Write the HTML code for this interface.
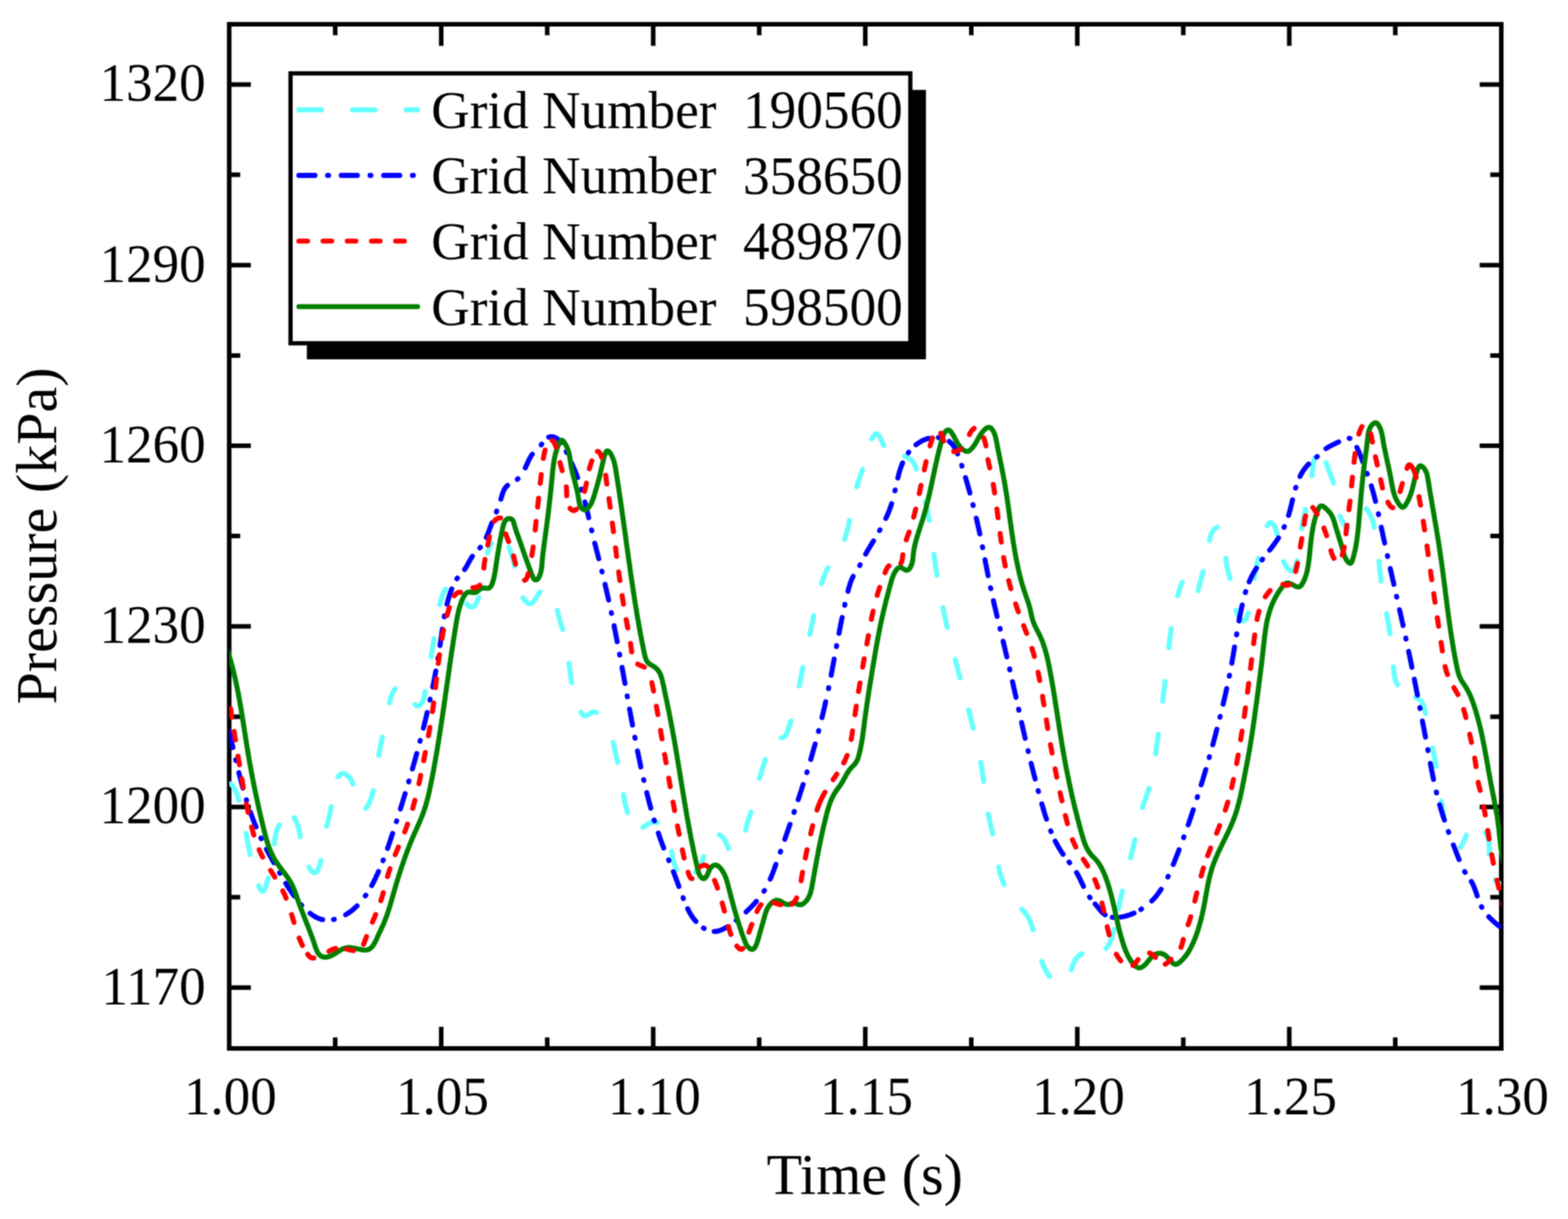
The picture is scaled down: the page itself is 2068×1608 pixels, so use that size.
<!DOCTYPE html>
<html lang="en"><head><meta charset="utf-8"><title>Pressure vs Time</title>
<style>
html,body{margin:0;padding:0;background:#fff;}
body{width:2068px;height:1608px;overflow:hidden;}
svg{display:block;}
</style></head><body>
<svg width="2068" height="1608" viewBox="0 0 2068 1608">
<defs><clipPath id="plot"><rect x="302.3" y="32.0" width="1677.7" height="1351.0"/></clipPath></defs>
<defs><filter id="soft" x="0" y="0" width="2068" height="1608" filterUnits="userSpaceOnUse" color-interpolation-filters="sRGB"><feConvolveMatrix order="3" kernelMatrix="1 2 1 2 4 2 1 2 1" edgeMode="duplicate" preserveAlpha="true"/></filter></defs>
<g filter="url(#soft)">
<rect x="-20" y="-20" width="2108" height="1648" fill="#ffffff"/>
<g stroke="#000" stroke-width="6.0" fill="none" stroke-linecap="butt">
<rect x="302.3" y="32.0" width="1677.7" height="1351.0"/>
</g>
<g stroke="#000" stroke-width="6.0" fill="none" stroke-linecap="butt">
<path d="M302.3 111.5h28.5 M1980.0 111.5h-28.5"/>
<path d="M302.3 349.8h28.5 M1980.0 349.8h-28.5"/>
<path d="M302.3 588.0h28.5 M1980.0 588.0h-28.5"/>
<path d="M302.3 826.3h28.5 M1980.0 826.3h-28.5"/>
<path d="M302.3 1064.5h28.5 M1980.0 1064.5h-28.5"/>
<path d="M302.3 1302.8h28.5 M1980.0 1302.8h-28.5"/>
<path d="M302.3 230.6h14.5 M1980.0 230.6h-14.5"/>
<path d="M302.3 468.9h14.5 M1980.0 468.9h-14.5"/>
<path d="M302.3 707.1h14.5 M1980.0 707.1h-14.5"/>
<path d="M302.3 945.4h14.5 M1980.0 945.4h-14.5"/>
<path d="M302.3 1183.6h14.5 M1980.0 1183.6h-14.5"/>
<path d="M581.9 1383.0v-28.5 M581.9 32.0v28.5"/>
<path d="M861.5 1383.0v-28.5 M861.5 32.0v28.5"/>
<path d="M1141.2 1383.0v-28.5 M1141.2 32.0v28.5"/>
<path d="M1420.8 1383.0v-28.5 M1420.8 32.0v28.5"/>
<path d="M1700.4 1383.0v-28.5 M1700.4 32.0v28.5"/>
<path d="M442.1 1383.0v-14.5 M442.1 32.0v14.5"/>
<path d="M721.7 1383.0v-14.5 M721.7 32.0v14.5"/>
<path d="M1001.3 1383.0v-14.5 M1001.3 32.0v14.5"/>
<path d="M1281.0 1383.0v-14.5 M1281.0 32.0v14.5"/>
<path d="M1560.6 1383.0v-14.5 M1560.6 32.0v14.5"/>
<path d="M1840.2 1383.0v-14.5 M1840.2 32.0v14.5"/>
</g>
<rect x="404.7" y="118.6" width="816.5" height="355.4" fill="#000"/>
<rect x="383.2" y="96.8" width="817.4" height="356" fill="#fff" stroke="#000" stroke-width="5.6"/>
<g clip-path="url(#plot)" fill="none" stroke-width="6.6" stroke-linecap="round" stroke-linejoin="round">
<path stroke="#66ffff" d="M304.2 1033.9L305.5 1035.3L306.7 1036.7L307.9 1038.3L308.9 1039.9L309.9 1041.5L310.7 1043.3L311.5 1045.0L312.2 1046.8L312.8 1048.6L313.4 1050.4L313.9 1052.3L314.4 1054.1L314.9 1056.0M324.3 1099.1L324.7 1101.0L325.1 1102.8L325.4 1104.7L325.8 1106.6L326.2 1108.5L326.5 1110.4L326.9 1112.3L327.3 1114.2L327.7 1116.1L328.0 1118.0L328.4 1119.9L328.8 1121.8L329.1 1123.6L329.5 1125.5L329.9 1127.4M341.0 1168.5L341.8 1170.2L342.6 1172.0L343.6 1173.7L344.8 1175.2L346.5 1175.8L348.0 1174.6L349.0 1173.0L349.8 1171.2L350.5 1169.4L351.1 1167.6L351.7 1165.8L352.2 1163.9L352.7 1162.0L353.2 1160.2L353.6 1158.3M361.7 1113.5L362.0 1111.6L362.2 1109.7L362.4 1107.9L362.7 1106.0L363.0 1104.1L363.4 1102.3L363.7 1100.4L364.2 1098.6L364.7 1096.8L365.3 1095.0L366.0 1093.2L366.7 1091.5L367.6 1089.8L368.5 1088.2M387.6 1078.4L388.6 1080.1L389.6 1081.7L390.4 1083.4L391.2 1085.2L392.0 1087.0L392.6 1088.8L393.2 1090.6L393.7 1092.4L394.2 1094.3L394.6 1096.2L395.0 1098.1L395.4 1100.0L395.7 1101.8L396.0 1103.7M407.6 1143.9L408.5 1145.6L409.6 1147.2L410.7 1148.7L412.0 1150.1L413.5 1151.2L415.4 1151.4L417.0 1150.5L418.2 1149.1L419.2 1147.4L420.0 1145.7L420.7 1143.9L421.3 1142.1L421.9 1140.3L422.4 1138.5L422.9 1136.7L423.3 1134.8M430.9 1089.9L431.3 1088.0L431.8 1086.2L432.2 1084.4L432.7 1082.5L433.1 1080.7L433.6 1078.9L434.1 1077.0L434.5 1075.2L434.9 1073.4L435.4 1071.5L435.7 1069.7L436.1 1067.8L436.5 1066.0L436.8 1064.1M445.8 1024.7L447.1 1023.2L448.4 1021.9L450.0 1020.9L451.8 1020.4L453.7 1020.5L455.5 1021.1L457.1 1022.1L458.6 1023.3L459.9 1024.6L461.2 1026.1L462.3 1027.6L463.2 1029.2L464.1 1030.9L464.9 1032.6L465.6 1034.4M482.2 1066.3L483.7 1065.0L484.8 1063.4L485.8 1061.6L486.6 1059.8L487.4 1058.0L488.2 1056.1L488.9 1054.3L489.5 1052.4L490.1 1050.5L490.7 1048.6L491.2 1046.7L491.7 1044.7L492.1 1042.8M499.6 996.3L500.0 994.4L500.3 992.6L500.6 990.7L501.0 988.9L501.3 987.0L501.7 985.2L502.0 983.4L502.4 981.5L502.7 979.7L503.1 977.8L503.5 976.0L503.8 974.2L504.2 972.3M513.7 927.2L514.1 925.4L514.5 923.6L515.0 921.8L515.5 920.0L516.1 918.2L516.7 916.5L517.4 914.8L518.3 913.1L519.2 911.5L520.2 909.9L521.3 908.4M547.1 929.4L548.7 930.6L550.5 931.3L552.4 931.1L554.0 930.1L555.3 928.6L556.4 926.9L557.3 925.2L558.0 923.4L558.7 921.6L559.2 919.7L559.7 917.8L560.0 915.8L560.3 913.9L560.5 912.0M568.4 866.6L568.8 864.7L569.1 862.9L569.4 861.0L569.8 859.2L570.1 857.3L570.4 855.5L570.7 853.6L571.0 851.8L571.3 849.9L571.6 848.1L571.9 846.2L572.1 844.4L572.4 842.5M579.9 797.5L580.4 795.6L580.9 793.6L581.4 791.7L581.9 789.8L582.6 787.9L583.3 786.1L584.0 784.2L584.8 782.4L585.8 780.6L586.7 778.9L587.8 777.2M615.2 796.5L616.5 797.9L618.0 799.2L619.6 800.2L621.4 800.8L623.3 800.7L624.9 799.7L626.3 798.4L627.4 796.8L628.4 795.2L629.2 793.5L630.0 791.7L630.7 789.9L631.4 788.1M642.8 729.8L643.4 728.0L643.9 726.3L644.5 724.6L645.2 723.0L645.9 721.3L646.6 719.7L647.4 718.0L648.2 716.4M671.0 721.8L671.7 723.6L672.3 725.3L673.0 727.1L673.6 728.9L674.3 730.7L674.9 732.4L675.5 734.2L676.0 736.0L676.6 737.8L677.1 739.6L677.6 741.5L678.0 743.3L678.5 745.1L678.8 747.0M689.8 788.7L690.9 790.3L692.2 791.9L693.5 793.3L694.9 794.6L696.5 795.7L698.4 796.4L700.3 796.2L702.0 795.2L703.4 793.8L704.6 792.2L705.7 790.6L706.8 789.0L707.8 787.3L708.8 785.6L709.9 783.9L711.0 782.3L712.1 780.7M735.0 805.0L735.4 806.8L735.8 808.7L736.2 810.5L736.7 812.4L737.1 814.2L737.6 816.0L738.2 817.8L738.7 819.6L739.2 821.4L739.8 823.2L740.4 825.0L740.9 826.8L741.5 828.6L742.0 830.4M750.4 874.7L750.6 876.7L750.9 878.7L751.1 880.7L751.4 882.6L751.6 884.6L751.9 886.6L752.1 888.6L752.4 890.5L752.7 892.5L753.0 894.5L753.3 896.4L753.6 898.4L753.9 900.4M766.4 939.4L767.4 941.1L768.6 942.6L770.2 943.9L772.1 944.3L774.0 943.7L775.8 942.7L777.4 941.7L779.1 940.6L780.9 939.8L782.9 939.2L784.8 939.2L786.8 939.7M808.7 979.1L809.1 981.0L809.5 982.9L809.9 984.8L810.3 986.7L810.8 988.6L811.2 990.5L811.6 992.5L812.0 994.4L812.5 996.3L812.9 998.2L813.3 1000.1L813.7 1002.0L814.1 1003.9L814.5 1005.8M822.4 1048.2L822.6 1050.1L822.9 1051.9L823.2 1053.8L823.5 1055.6L823.9 1057.5L824.3 1059.3L824.7 1061.2L825.1 1063.0L825.6 1064.8L826.1 1066.6L826.6 1068.4L827.2 1070.2L827.8 1072.0M847.9 1091.3L849.5 1090.3L851.1 1089.3L852.7 1088.2L854.3 1087.2L855.9 1086.2L857.6 1085.4L859.4 1084.8L861.3 1084.4L863.2 1084.4L865.1 1084.7L866.9 1085.2M885.8 1123.6L886.1 1125.4L886.5 1127.3L886.8 1129.1L887.2 1131.0L887.5 1132.8L888.0 1134.6L888.5 1136.4L889.0 1138.2L889.6 1140.0L890.2 1141.8L890.9 1143.5L891.7 1145.2L892.5 1146.9M917.2 1150.6L918.5 1149.0L919.7 1147.5L920.9 1145.9L922.0 1144.2L923.0 1142.5L924.0 1140.7L924.8 1139.0L925.6 1137.1L926.4 1135.3L927.0 1133.4L927.6 1131.5L928.1 1129.5M948.6 1101.2L950.2 1102.1L951.8 1103.1L953.2 1104.4L954.4 1105.8L955.4 1107.4L956.3 1109.0L957.1 1110.7L957.8 1112.4L958.5 1114.2L959.2 1115.9L960.1 1117.6L960.9 1119.2M983.4 1095.1L983.8 1093.2L984.2 1091.3L984.6 1089.5L985.1 1087.6L985.6 1085.8L986.2 1083.9L986.7 1082.1L987.3 1080.3L987.9 1078.5L988.6 1076.7L989.2 1074.8L989.8 1073.0L990.4 1071.2M1001.8 1026.6L1002.3 1024.6L1002.9 1022.7L1003.5 1020.8L1004.0 1018.9L1004.6 1017.0L1005.2 1015.1L1005.8 1013.2L1006.4 1011.3L1007.0 1009.4L1007.6 1007.5L1008.2 1005.6L1008.8 1003.7L1009.4 1001.8M1030.3 973.2L1032.2 972.9L1034.0 972.1L1035.5 970.8L1036.6 969.2L1037.5 967.5L1038.2 965.6L1038.9 963.8L1039.5 962.0L1040.2 960.1L1040.8 958.3L1041.4 956.4L1042.0 954.5L1042.6 952.7L1043.2 950.8M1054.1 905.0L1054.4 903.1L1054.8 901.2L1055.2 899.4L1055.5 897.5L1055.9 895.6L1056.2 893.7L1056.6 891.8L1057.0 889.9L1057.3 888.1L1057.7 886.2L1058.0 884.3L1058.4 882.4L1058.8 880.5M1067.9 836.9L1068.3 835.0L1068.8 833.1L1069.2 831.2L1069.6 829.2L1070.0 827.3L1070.4 825.4L1070.8 823.5L1071.2 821.6L1071.7 819.7L1072.1 817.8L1072.5 815.9L1072.9 814.0L1073.3 812.0M1083.4 769.7L1084.0 767.9L1084.6 766.1L1085.2 764.4L1085.9 762.6L1086.5 760.9L1087.2 759.1L1087.9 757.4L1088.7 755.7L1089.4 754.0L1090.2 752.3L1091.1 750.6L1091.9 749.0M1113.8 711.3L1114.5 709.4L1115.2 707.6L1115.8 705.7L1116.4 703.8L1116.9 701.9L1117.4 699.9L1117.9 698.0L1118.4 696.0L1118.8 694.1L1119.2 692.2L1119.6 690.2L1119.9 688.2L1120.3 686.3M1129.8 642.2L1130.4 640.4L1131.0 638.7L1131.6 636.9L1132.2 635.1L1132.8 633.3L1133.5 631.6L1134.1 629.8L1134.7 628.0L1135.3 626.2L1135.9 624.5L1136.4 622.7L1137.0 620.9L1137.5 619.1M1149.6 579.0L1150.6 577.3L1151.6 575.8L1152.8 574.3L1154.2 573.0L1155.9 572.2L1157.6 572.7L1158.9 574.1L1159.9 575.7L1160.8 577.4L1161.6 579.1L1162.3 580.9L1163.1 582.6L1163.8 584.3L1164.7 586.0L1165.5 587.7M1192.9 601.9L1194.8 602.6L1196.6 603.4L1198.4 604.3L1200.1 605.4L1201.6 606.6L1203.0 608.1L1204.2 609.7L1205.3 611.3L1206.3 613.1L1207.1 614.9L1207.9 616.7L1208.6 618.6M1220.2 661.6L1220.7 663.5L1221.1 665.4L1221.5 667.3L1222.0 669.2L1222.4 671.1L1222.8 673.0L1223.2 675.0L1223.6 676.9L1224.0 678.8L1224.4 680.7L1224.8 682.6L1225.1 684.5L1225.5 686.5M1231.7 731.1L1232.0 733.1L1232.2 735.1L1232.5 737.0L1232.8 739.0L1233.1 741.0L1233.4 743.0L1233.6 744.9L1233.9 746.9L1234.2 748.9L1234.5 750.9L1234.8 752.8L1235.2 754.8L1235.5 756.8L1235.8 758.7M1243.7 801.6L1244.0 803.5L1244.4 805.3L1244.8 807.2L1245.2 809.0L1245.6 810.8L1246.0 812.7L1246.4 814.5L1246.8 816.4L1247.2 818.2L1247.6 820.1L1248.0 821.9L1248.4 823.7L1248.8 825.6L1249.3 827.4M1259.8 870.2L1260.3 872.1L1260.8 873.9L1261.3 875.8L1261.8 877.7L1262.3 879.5L1262.7 881.4L1263.2 883.2L1263.7 885.1L1264.2 886.9L1264.7 888.8L1265.2 890.6L1265.7 892.5L1266.2 894.3M1277.4 936.5L1277.9 938.3L1278.4 940.2L1278.9 942.0L1279.4 943.9L1279.8 945.7L1280.3 947.6L1280.8 949.4L1281.3 951.3L1281.7 953.2L1282.2 955.0L1282.7 956.9L1283.1 958.7L1283.6 960.6M1293.4 1005.6L1293.7 1007.6L1294.1 1009.5L1294.4 1011.4L1294.7 1013.3L1295.1 1015.3L1295.4 1017.2L1295.7 1019.1L1296.0 1021.0L1296.3 1023.0L1296.6 1024.9L1296.8 1026.9L1297.1 1028.8L1297.4 1030.7M1303.2 1073.9L1303.6 1075.8L1304.0 1077.7L1304.4 1079.6L1304.9 1081.4L1305.3 1083.3L1305.7 1085.2L1306.2 1087.0L1306.6 1088.9L1307.1 1090.8L1307.5 1092.6L1308.0 1094.5L1308.4 1096.4L1308.8 1098.3L1309.2 1100.1M1317.0 1143.6L1317.4 1145.4L1317.8 1147.2L1318.2 1149.0L1318.7 1150.9L1319.2 1152.7L1319.7 1154.5L1320.3 1156.3L1320.9 1158.1L1321.5 1159.8L1322.1 1161.6L1322.8 1163.3L1323.5 1165.1L1324.3 1166.8M1347.6 1199.2L1349.0 1200.6L1350.3 1202.0L1351.6 1203.5L1352.8 1205.1L1353.9 1206.7L1355.0 1208.3L1356.0 1210.0L1356.9 1211.7L1357.7 1213.5L1358.5 1215.3L1359.2 1217.1L1359.9 1219.0L1360.6 1220.8L1361.2 1222.7L1361.7 1224.6L1362.3 1226.5M1373.8 1268.0L1374.5 1269.7L1375.2 1271.5L1375.9 1273.2L1376.7 1274.9L1377.5 1276.6L1378.3 1278.2L1379.2 1279.9L1380.1 1281.5L1381.0 1283.1L1382.0 1284.7L1383.0 1286.3L1384.1 1287.8M1412.7 1279.2L1413.4 1277.4L1414.0 1275.7L1414.7 1273.9L1415.3 1272.1L1416.0 1270.3L1416.8 1268.6L1417.6 1266.9L1418.6 1265.3L1419.6 1263.8L1420.9 1262.3L1422.2 1261.0L1423.7 1259.9L1425.3 1258.8L1427.0 1257.9M1458.7 1251.2L1460.0 1249.8L1461.1 1248.2L1462.2 1246.5L1463.1 1244.8L1463.9 1243.0L1464.6 1241.2L1465.3 1239.3L1466.0 1237.5L1466.6 1235.6L1467.2 1233.8L1467.7 1231.9L1468.3 1230.0L1468.8 1228.1L1469.3 1226.2M1475.0 1198.7L1475.4 1196.8L1475.8 1194.8L1476.2 1192.9L1476.6 1190.9L1477.0 1189.0L1477.5 1187.0L1477.9 1185.1L1478.4 1183.1L1478.8 1181.2L1479.3 1179.3L1479.7 1177.3L1480.2 1175.4M1491.1 1131.6L1491.6 1129.8L1492.0 1127.9L1492.5 1126.0L1492.9 1124.2L1493.4 1122.3L1493.8 1120.4L1494.2 1118.6L1494.7 1116.7L1495.1 1114.8L1495.5 1113.0L1495.9 1111.1L1496.4 1109.2L1496.8 1107.4M1506.7 1065.4L1507.3 1063.6L1507.9 1061.8L1508.5 1060.0L1509.1 1058.2L1509.8 1056.3L1510.4 1054.5L1511.1 1052.7L1511.7 1050.9L1512.3 1049.1L1513.0 1047.3L1513.6 1045.5L1514.2 1043.6L1514.8 1041.8L1515.4 1040.0M1524.1 994.3L1524.4 992.3L1524.7 990.3L1525.0 988.3L1525.2 986.4L1525.5 984.4L1525.8 982.4L1526.1 980.4L1526.3 978.5L1526.6 976.5L1526.9 974.5L1527.1 972.6L1527.4 970.6L1527.7 968.6M1533.4 924.9L1533.7 922.9L1533.9 920.9L1534.2 918.9L1534.4 917.0L1534.6 915.0L1534.9 913.0L1535.1 911.0L1535.4 909.0L1535.6 907.1L1535.8 905.1L1536.0 903.1L1536.3 901.1L1536.5 899.1M1541.4 854.3L1541.6 852.4L1541.9 850.4L1542.1 848.5L1542.3 846.5L1542.6 844.6L1542.8 842.7L1543.1 840.7L1543.4 838.8L1543.6 836.9L1543.9 834.9L1544.2 833.0L1544.4 831.1L1544.7 829.1M1553.4 785.9L1553.9 784.1L1554.4 782.2L1554.9 780.4L1555.4 778.6L1555.9 776.8L1556.5 775.0L1557.0 773.2L1557.6 771.4L1558.3 769.6L1559.1 767.9M1580.2 779.1L1580.7 777.2L1581.1 775.3L1581.6 773.3L1582.1 771.4L1582.6 769.5L1583.1 767.5L1583.6 765.6L1584.0 763.7L1584.5 761.7L1585.0 759.8L1585.5 757.9L1586.0 755.9L1586.5 754.0M1595.3 712.9L1595.7 711.0L1596.1 709.1L1596.5 707.3L1597.1 705.5L1597.8 703.7L1598.6 702.0L1599.6 700.4L1600.8 698.9L1602.1 697.5L1603.6 696.4L1605.2 695.3M1616.8 736.5L1616.9 738.4L1617.1 740.4L1617.4 742.3L1617.6 744.2L1618.0 746.2L1618.3 748.1L1618.8 750.0L1619.2 751.9L1619.7 753.8L1620.2 755.7L1620.7 757.6L1621.2 759.5L1621.7 761.4L1622.1 763.3M1630.0 805.0L1630.7 806.8L1631.4 808.6L1632.2 810.4L1633.1 812.1L1634.0 813.8L1635.0 815.4L1636.2 817.0L1637.5 818.4L1639.2 819.2L1641.0 818.8L1642.4 817.4L1643.4 815.8L1644.2 814.0L1645.0 812.2L1645.6 810.4L1646.2 808.6M1653.8 763.2L1654.2 761.3L1654.6 759.3L1655.0 757.4L1655.4 755.5L1655.8 753.6L1656.2 751.7L1656.6 749.8L1657.1 747.9L1657.5 746.0L1657.9 744.0L1658.4 742.1L1658.8 740.2L1659.2 738.3L1659.6 736.4M1671.3 693.6L1672.3 692.0L1673.4 690.5L1674.8 689.3L1676.6 689.3L1678.1 690.4L1679.3 691.8L1680.3 693.4L1681.2 695.1L1682.0 696.8L1682.6 698.5L1683.2 700.3L1683.7 702.2L1684.1 704.0M1693.0 740.8L1693.9 742.6L1694.8 744.3L1695.8 745.9L1696.8 747.6L1697.9 749.1L1699.2 750.6L1700.5 752.0L1702.2 753.0L1704.0 753.2L1705.7 752.3L1706.9 750.7L1707.8 749.0L1708.5 747.2L1709.2 745.4L1709.8 743.6L1710.3 741.7L1710.8 739.8M1716.7 697.2L1717.0 695.2L1717.3 693.2L1717.7 691.3L1718.1 689.3L1718.4 687.4L1718.8 685.4L1719.3 683.5L1719.7 681.5L1720.1 679.6L1720.6 677.6L1721.0 675.7L1721.5 673.8L1721.9 671.8M1730.4 627.6L1730.6 625.6L1730.7 623.6L1730.9 621.6L1731.0 619.6L1731.2 617.6L1731.5 615.7L1731.8 613.7L1732.1 611.7L1732.5 609.8L1732.9 607.8L1733.4 605.9L1734.0 604.0M1749.1 610.3L1749.6 612.2L1750.2 614.0L1750.8 615.8L1751.4 617.6L1752.1 619.3L1752.7 621.1L1753.4 622.9L1754.1 624.6L1754.8 626.4L1755.5 628.2L1756.2 629.9L1756.9 631.7L1757.5 633.5L1758.1 635.3L1758.7 637.1M1767.3 680.8L1768.0 682.6L1768.7 684.4L1769.5 686.2L1770.3 687.9L1771.3 689.6L1772.3 691.3L1773.4 692.8L1774.6 694.4L1775.9 695.8L1777.4 697.1M1801.9 671.1L1803.1 672.6L1804.2 674.2L1805.2 675.8L1806.1 677.5L1807.0 679.2L1807.9 680.9L1808.6 682.7L1809.3 684.4L1810.0 686.3L1810.6 688.1L1811.1 689.9L1811.6 691.8L1812.1 693.7L1812.5 695.5M1818.6 740.2L1818.8 742.1L1818.9 744.0L1819.1 745.8L1819.3 747.7L1819.5 749.6L1819.7 751.5L1819.9 753.3L1820.1 755.2L1820.3 757.1L1820.5 759.0L1820.7 760.8L1821.0 762.7L1821.2 764.6L1821.4 766.4M1828.8 809.4L1829.1 811.3L1829.5 813.2L1829.8 815.1L1830.1 817.0L1830.5 818.9L1830.8 820.8L1831.1 822.7L1831.4 824.6L1831.7 826.5L1832.0 828.4L1832.3 830.3L1832.6 832.2L1832.9 834.1L1833.1 836.0M1837.8 879.8L1837.9 881.7L1838.1 883.6L1838.2 885.4L1838.4 887.3L1838.6 889.2L1838.9 891.0L1839.2 892.9L1839.6 894.7L1840.1 896.5L1840.7 898.3L1841.3 900.1L1842.1 901.8L1843.0 903.4M1867.0 919.9L1868.7 920.7L1870.3 921.7L1871.9 922.8L1873.3 924.0L1874.5 925.4L1875.6 927.0L1876.5 928.6L1877.3 930.3L1878.0 932.1L1878.5 933.9L1879.0 935.7L1879.4 937.6L1879.8 939.4L1880.2 941.3M1889.4 986.4L1889.8 988.3L1890.2 990.2L1890.6 992.1L1891.0 993.9L1891.3 995.8L1891.7 997.7L1892.1 999.6L1892.4 1001.5L1892.8 1003.4L1893.1 1005.2L1893.4 1007.1L1893.8 1009.0L1894.1 1010.9M1900.9 1056.5L1901.3 1058.4L1901.7 1060.4L1902.1 1062.4L1902.4 1064.3L1902.8 1066.3L1903.1 1068.2L1903.5 1070.2L1903.8 1072.2L1904.0 1074.1L1904.2 1076.1L1904.4 1078.1L1904.6 1080.1M1926.2 1117.6L1927.3 1116.0L1928.4 1114.3L1929.3 1112.5L1930.2 1110.7L1930.9 1108.9L1931.7 1107.0L1932.4 1105.2L1933.1 1103.3L1933.9 1101.5M1959.1 1098.4L1960.2 1100.1L1961.0 1101.8L1961.8 1103.6L1962.5 1105.4L1963.0 1107.2L1963.4 1109.1L1963.7 1111.0L1963.9 1112.9L1964.0 1114.9L1964.1 1116.8L1964.1 1118.7L1964.1 1120.6L1964.0 1122.6L1964.0 1124.5L1963.9 1126.4M1972.0 1160.8L1973.4 1162.1L1974.9 1163.3L1976.4 1164.4L1978.0 1165.4L1979.7 1166.4L1981.4 1167.3L1983.0 1168.2"/>
<path stroke="#0000ff" d="M298.5 947.9L298.8 949.0M302.5 965.2L302.9 967.1L303.3 969.0L303.8 970.9L304.2 972.8L304.6 974.7L305.1 976.6L305.5 978.5L305.9 980.4L306.3 982.3L306.8 984.2L307.2 986.1M310.9 1002.3L311.2 1003.4M315.0 1019.1L315.4 1020.9L315.9 1022.8L316.4 1024.7L316.9 1026.6L317.4 1028.4L317.9 1030.3L318.4 1032.2L318.9 1034.0L319.4 1035.9L319.9 1037.8L320.4 1039.6M324.9 1054.9L325.2 1056.1M330.3 1071.4L330.9 1073.2L331.6 1075.0L332.2 1076.7L332.9 1078.5L333.5 1080.3L334.2 1082.1L334.9 1083.8L335.6 1085.6L336.3 1087.4L337.0 1089.1L337.7 1090.9M344.1 1105.4L344.6 1106.4M351.4 1120.1L352.3 1121.7L353.1 1123.4L354.0 1125.0L354.9 1126.6L355.8 1128.3L356.7 1129.9L357.6 1131.5L358.5 1133.1L359.4 1134.7L360.3 1136.4L361.2 1138.0M368.7 1151.1L369.2 1152.1M376.9 1165.1L377.8 1166.7L378.8 1168.3L379.8 1169.8L380.8 1171.3L381.7 1172.9L382.8 1174.4L383.8 1175.9L384.8 1177.4L385.8 1178.9L386.9 1180.4L388.0 1181.9M397.2 1193.4L397.9 1194.2M408.9 1204.7L410.4 1205.8L411.9 1206.9L413.5 1208.0L415.1 1209.0L416.7 1209.9L418.4 1210.7L420.2 1211.5L421.9 1212.1L423.7 1212.7L425.6 1213.1M439.9 1212.9L440.9 1212.7M455.8 1206.6L457.5 1205.7L459.1 1204.6L460.7 1203.6L462.3 1202.4L463.8 1201.3L465.3 1200.1L466.8 1198.8L468.2 1197.5L469.6 1196.2L471.0 1194.9M481.8 1181.8L482.5 1180.9M490.3 1168.1L491.2 1166.5L492.0 1164.8L492.9 1163.2L493.7 1161.5L494.5 1159.8L495.4 1158.1L496.1 1156.4L496.9 1154.7L497.7 1153.0L498.5 1151.3L499.2 1149.6M505.1 1135.4L505.5 1134.3M511.1 1119.2L511.7 1117.4L512.4 1115.6L513.0 1113.8L513.6 1112.0L514.2 1110.2L514.8 1108.4L515.4 1106.6L516.0 1104.8L516.6 1103.0L517.2 1101.2L517.8 1099.4M522.8 1083.9L523.2 1082.8M528.1 1067.2L528.6 1065.4L529.2 1063.5L529.8 1061.7L530.4 1059.9L530.9 1058.0L531.5 1056.2L532.0 1054.4L532.6 1052.5L533.2 1050.7L533.7 1048.9L534.3 1047.0M539.0 1031.3L539.3 1030.2M543.9 1014.3L544.5 1012.5L545.0 1010.6L545.5 1008.8L546.0 1006.9L546.6 1005.1L547.1 1003.2L547.6 1001.3L548.1 999.5L548.6 997.6L549.1 995.8L549.6 993.9M553.9 977.9L554.2 976.7M558.4 960.6L558.8 958.7L559.3 956.8L559.8 954.9L560.2 953.0L560.7 951.1L561.2 949.3L561.6 947.4L562.1 945.5L562.5 943.6L563.0 941.7L563.4 939.8M567.1 923.4L567.3 922.3M570.7 906.3L571.1 904.4L571.5 902.5L571.9 900.5L572.2 898.6L572.6 896.7L573.0 894.8L573.4 892.8L573.7 890.9L574.1 889.0L574.4 887.1L574.8 885.1M577.6 868.9L577.8 867.7M580.3 851.4L580.6 849.5L580.9 847.5L581.2 845.5L581.5 843.6L581.7 841.6L582.0 839.7L582.3 837.7L582.5 835.7L582.8 833.8L583.1 831.8L583.4 829.9M586.0 813.6L586.2 812.4M589.5 797.0L590.0 795.1L590.5 793.3L591.0 791.4L591.5 789.6L592.1 787.8L592.6 785.9L593.2 784.1L593.8 782.3L594.5 780.5L595.1 778.7L595.8 776.9M602.6 763.5L603.3 762.6M612.8 751.2L613.8 749.7L614.8 748.1L615.7 746.5L616.6 744.9L617.4 743.3L618.3 741.7L619.2 740.1L620.1 738.5L621.0 736.9L622.0 735.3L623.0 733.8M632.9 722.8L633.6 721.9M641.3 709.0L642.1 707.3L642.8 705.6L643.5 703.8L644.2 702.0L644.9 700.3L645.5 698.5L646.2 696.7L646.8 694.9L647.5 693.2L648.2 691.4L648.8 689.6M654.7 675.3L655.1 674.2M660.6 658.5L661.1 656.7L661.6 654.9L662.2 653.1L662.7 651.3L663.4 649.5L664.0 647.8L664.8 646.1L665.8 644.5L666.8 643.0L668.1 641.5L669.4 640.3M682.3 632.3L683.1 631.6M692.8 617.3L693.5 615.6L694.3 613.9L695.1 612.2L695.8 610.5L696.6 608.8L697.4 607.1L698.2 605.5L699.1 603.8L700.0 602.2L701.0 600.6L702.1 599.1M713.8 586.8L714.5 585.9M723.7 576.7L725.5 576.1L727.4 576.0L729.3 576.2L731.1 576.8L732.9 577.6L734.5 578.5L736.0 579.7L737.4 580.9L738.7 582.3L739.9 583.8M746.7 595.7L747.2 596.7M753.9 610.8L754.6 612.6L755.4 614.3L756.2 616.0L756.9 617.7L757.6 619.5L758.4 621.2L759.1 623.0L759.8 624.7L760.5 626.5L761.1 628.2L761.8 630.0M766.8 645.2L767.1 646.3M771.5 662.1L771.9 664.0L772.4 665.9L772.9 667.8L773.3 669.7L773.8 671.6L774.2 673.5L774.7 675.4L775.1 677.2L775.6 679.1L776.0 681.0L776.4 682.9M780.2 699.0L780.5 700.2M784.4 716.5L784.9 718.3L785.4 720.2L785.9 722.1L786.3 724.0L786.8 725.9L787.3 727.7L787.8 729.6L788.3 731.5L788.7 733.4L789.2 735.3L789.7 737.1M793.8 753.4L794.1 754.5M798.0 770.7L798.4 772.6L798.8 774.5L799.3 776.4L799.7 778.3L800.2 780.2L800.6 782.1L801.0 784.0L801.5 785.9L801.9 787.8L802.3 789.7L802.7 791.6M806.3 808.0L806.5 809.1M809.9 825.4L810.2 827.3L810.6 829.2L811.0 831.2L811.4 833.1L811.8 835.0L812.2 836.9L812.5 838.8L812.9 840.8L813.3 842.7L813.7 844.6L814.0 846.5M817.1 862.9L817.4 864.1M820.4 880.4L820.7 882.3L821.1 884.2L821.5 886.2L821.8 888.1L822.2 890.0L822.5 892.0L822.9 893.9L823.2 895.8L823.6 897.8L823.9 899.7L824.3 901.6M827.2 918.0L827.4 919.2M830.3 935.3L830.7 937.2L831.0 939.1L831.4 941.1L831.7 943.0L832.1 944.9L832.4 946.9L832.8 948.8L833.1 950.7L833.5 952.7L833.9 954.6L834.2 956.5M837.3 972.6L837.5 973.8M840.8 990.6L841.2 992.5L841.6 994.5L842.0 996.4L842.4 998.3L842.8 1000.2L843.2 1002.1L843.6 1004.0L844.0 1005.9L844.4 1007.9L844.8 1009.8L845.2 1011.7M848.9 1028.4L849.2 1029.5M853.0 1045.4L853.4 1047.3L853.9 1049.2L854.4 1051.1L854.9 1052.9L855.3 1054.8L855.8 1056.7L856.3 1058.6L856.8 1060.4L857.3 1062.3L857.8 1064.2L858.3 1066.1M862.7 1081.6L863.1 1082.8M868.3 1099.0L868.9 1100.8L869.5 1102.6L870.1 1104.4L870.7 1106.2L871.4 1108.0L872.0 1109.8L872.7 1111.6L873.3 1113.4L874.0 1115.1L874.7 1116.9L875.4 1118.7M881.8 1134.3L882.2 1135.3M888.1 1149.9L888.8 1151.6L889.5 1153.4L890.2 1155.2L890.9 1156.9L891.5 1158.7L892.2 1160.5L892.8 1162.3L893.5 1164.1L894.1 1165.9L894.8 1167.6L895.4 1169.4M900.9 1184.2L901.3 1185.3M906.9 1198.6L907.7 1200.2L908.5 1201.8L909.4 1203.4L910.3 1205.0L911.2 1206.6L912.2 1208.1L913.2 1209.7L914.3 1211.1L915.4 1212.6L916.6 1214.0L917.8 1215.4M927.8 1224.2L928.7 1224.7M941.9 1228.7L943.8 1228.6L945.6 1228.4L947.5 1228.0L949.3 1227.4L951.0 1226.8L952.7 1226.1L954.4 1225.3L956.1 1224.4L957.7 1223.5L959.3 1222.6M970.9 1214.1L971.7 1213.5M984.0 1202.9L985.4 1201.6L986.8 1200.2L988.2 1198.9L989.6 1197.5L991.0 1196.1L992.4 1194.7L993.7 1193.3L995.0 1191.9L996.3 1190.4L997.6 1188.9M1007.6 1175.6L1008.2 1174.6M1015.8 1159.7L1016.6 1157.9L1017.3 1156.2L1018.0 1154.4L1018.7 1152.7L1019.4 1150.9L1020.1 1149.1L1020.7 1147.4L1021.4 1145.6L1022.0 1143.8L1022.7 1142.0L1023.3 1140.2M1029.1 1124.0L1029.5 1122.9M1035.0 1107.2L1035.6 1105.4L1036.3 1103.6L1036.9 1101.8L1037.5 1100.0L1038.1 1098.2L1038.8 1096.4L1039.4 1094.6L1040.0 1092.8L1040.6 1091.0L1041.2 1089.2L1041.9 1087.4M1047.2 1071.6L1047.6 1070.4M1052.7 1054.9L1053.3 1053.1L1053.9 1051.3L1054.5 1049.5L1055.1 1047.6L1055.7 1045.8L1056.3 1044.0L1056.9 1042.2L1057.4 1040.3L1058.0 1038.5L1058.6 1036.7L1059.2 1034.9M1064.1 1019.2L1064.4 1018.1M1069.3 1001.8L1069.8 999.9L1070.4 998.1L1070.9 996.2L1071.4 994.4L1071.9 992.5L1072.5 990.6L1073.0 988.8L1073.5 986.9L1074.0 985.1L1074.6 983.2L1075.1 981.4M1079.5 964.8L1079.8 963.7M1084.1 946.6L1084.6 944.7L1085.0 942.8L1085.5 940.9L1085.9 939.0L1086.4 937.1L1086.8 935.2L1087.3 933.3L1087.7 931.4L1088.1 929.5L1088.5 927.6L1089.0 925.7M1092.7 908.4L1092.9 907.2M1096.2 890.7L1096.5 888.7L1096.9 886.8L1097.3 884.9L1097.6 883.0L1098.0 881.0L1098.3 879.1L1098.7 877.2L1099.1 875.2L1099.4 873.3L1099.8 871.4L1100.1 869.4M1103.2 852.9L1103.4 851.7M1106.5 835.5L1106.9 833.6L1107.2 831.7L1107.6 829.8L1108.0 827.8L1108.3 825.9L1108.7 824.0L1109.1 822.1L1109.5 820.2L1109.9 818.2L1110.3 816.3L1110.7 814.4M1114.1 798.4L1114.3 797.2M1118.4 780.0L1118.8 778.2L1119.3 776.3L1119.8 774.5L1120.4 772.7L1120.9 770.8L1121.5 769.0L1122.1 767.2L1122.8 765.5L1123.6 763.7L1124.4 762.0L1125.2 760.3M1133.9 746.0L1134.4 745.0M1141.7 730.9L1142.6 729.3L1143.5 727.7L1144.4 726.1L1145.4 724.5L1146.3 722.9L1147.3 721.3L1148.2 719.8L1149.2 718.2L1150.1 716.6L1151.1 715.1L1152.1 713.5M1160.0 699.9L1160.6 698.9M1168.3 683.9L1169.1 682.2L1169.9 680.4L1170.6 678.7L1171.4 677.0L1172.1 675.2L1172.8 673.5L1173.4 671.7L1174.1 669.9L1174.7 668.1L1175.3 666.3L1175.9 664.5M1180.3 647.5L1180.6 646.3M1184.1 630.6L1184.6 628.8L1185.0 626.9L1185.5 625.1L1186.0 623.2L1186.6 621.4L1187.1 619.6L1187.7 617.7L1188.4 615.9L1189.0 614.1L1189.7 612.3L1190.4 610.6M1197.9 597.3L1198.5 596.4M1208.1 586.7L1209.6 585.6L1211.1 584.5L1212.7 583.5L1214.3 582.5L1216.0 581.6L1217.7 580.8L1219.4 580.0L1221.1 579.3L1222.9 578.7L1224.8 578.2M1237.6 577.2L1238.6 577.4M1251.9 582.3L1253.3 583.5L1254.7 584.7L1255.9 586.0L1257.0 587.5L1258.1 589.0L1259.0 590.5L1259.9 592.1L1260.7 593.8L1261.5 595.4L1262.2 597.1L1262.9 598.8M1268.4 613.8L1268.7 614.9M1273.4 630.0L1273.9 631.8L1274.5 633.7L1275.0 635.5L1275.5 637.4L1276.1 639.2L1276.6 641.1L1277.1 642.9L1277.6 644.8L1278.2 646.7L1278.7 648.5L1279.2 650.4M1283.2 665.7L1283.5 666.9M1287.6 683.5L1288.1 685.4L1288.5 687.3L1288.9 689.2L1289.4 691.1L1289.8 693.0L1290.2 694.9L1290.7 696.8L1291.1 698.7L1291.5 700.6L1291.9 702.5L1292.3 704.4M1295.8 721.3L1296.0 722.5M1299.1 738.3L1299.5 740.3L1299.8 742.2L1300.2 744.1L1300.6 746.0L1301.0 748.0L1301.3 749.9L1301.7 751.8L1302.1 753.7L1302.5 755.7L1302.8 757.6L1303.2 759.5M1306.4 775.3L1306.7 776.5M1310.2 792.3L1310.6 794.2L1311.0 796.1L1311.5 798.0L1311.9 799.9L1312.4 801.8L1312.8 803.7L1313.3 805.6L1313.7 807.5L1314.2 809.4L1314.6 811.3L1315.1 813.2M1318.9 828.9L1319.1 830.0M1323.0 845.8L1323.4 847.7L1323.9 849.6L1324.3 851.4L1324.8 853.3L1325.2 855.2L1325.7 857.1L1326.1 859.0L1326.6 860.9L1327.0 862.8L1327.5 864.7L1327.9 866.6M1331.6 882.4L1331.8 883.6M1335.3 899.1L1335.8 901.0L1336.2 902.9L1336.6 904.8L1337.0 906.7L1337.5 908.6L1337.9 910.5L1338.3 912.4L1338.7 914.3L1339.2 916.2L1339.6 918.1L1340.0 920.0M1343.5 935.6L1343.7 936.8M1347.4 953.1L1347.8 955.0L1348.2 956.9L1348.7 958.8L1349.1 960.7L1349.5 962.6L1349.9 964.5L1350.4 966.4L1350.8 968.3L1351.2 970.2L1351.7 972.1L1352.1 974.0M1355.9 990.2L1356.2 991.4M1359.9 1006.9L1360.4 1008.8L1360.9 1010.7L1361.3 1012.6L1361.8 1014.5L1362.3 1016.3L1362.8 1018.2L1363.2 1020.1L1363.7 1022.0L1364.2 1023.9L1364.7 1025.7L1365.2 1027.6M1369.2 1043.0L1369.6 1044.2M1374.0 1060.3L1374.6 1062.1L1375.1 1064.0L1375.6 1065.8L1376.2 1067.7L1376.7 1069.5L1377.3 1071.4L1377.8 1073.2L1378.4 1075.0L1379.0 1076.9L1379.6 1078.7L1380.2 1080.5M1385.7 1096.0L1386.2 1097.1M1391.7 1109.5L1392.6 1111.1L1393.4 1112.8L1394.3 1114.4L1395.2 1116.0L1396.1 1117.6L1397.0 1119.2L1398.0 1120.7L1399.0 1122.3L1400.0 1123.8L1401.0 1125.3L1402.1 1126.9M1410.0 1137.2L1410.7 1138.1M1419.8 1151.0L1420.8 1152.6L1421.7 1154.3L1422.5 1155.9L1423.4 1157.6L1424.2 1159.2L1425.0 1160.9L1425.8 1162.6L1426.6 1164.3L1427.4 1165.9L1428.2 1167.6L1429.0 1169.3M1437.0 1183.3L1437.6 1184.2M1444.3 1192.4L1445.6 1193.9L1446.8 1195.4L1448.1 1196.9L1449.3 1198.4L1450.5 1200.0L1451.8 1201.5L1453.1 1202.9L1454.5 1204.3L1456.0 1205.6L1457.6 1206.7M1466.9 1210.0L1468.0 1210.1M1477.9 1209.7L1479.7 1209.4L1481.5 1209.1L1483.4 1208.7L1485.2 1208.2L1487.0 1207.7L1488.7 1207.2L1490.5 1206.6L1492.2 1205.9L1494.0 1205.2L1495.7 1204.4M1504.6 1199.7L1505.5 1199.1M1519.0 1188.4L1520.4 1187.0L1521.8 1185.6L1523.1 1184.1L1524.4 1182.6L1525.6 1181.1L1526.9 1179.5L1528.0 1177.9L1529.2 1176.3L1530.3 1174.7L1531.4 1173.0M1540.2 1157.0L1540.7 1155.9M1547.4 1140.4L1548.1 1138.6L1548.8 1136.9L1549.5 1135.1L1550.2 1133.3L1550.9 1131.6L1551.6 1129.8L1552.3 1128.1L1553.0 1126.3L1553.7 1124.6L1554.4 1122.8L1555.0 1121.0M1561.0 1105.0L1561.4 1103.9M1567.1 1088.0L1567.7 1086.2L1568.3 1084.4L1568.9 1082.6L1569.5 1080.8L1570.2 1079.0L1570.8 1077.2L1571.4 1075.3L1572.0 1073.5L1572.6 1071.7L1573.2 1069.9L1573.8 1068.1M1579.0 1052.0L1579.4 1050.8M1584.2 1035.3L1584.8 1033.4L1585.4 1031.6L1585.9 1029.8L1586.5 1027.9L1587.0 1026.1L1587.6 1024.2L1588.1 1022.4L1588.7 1020.6L1589.2 1018.7L1589.8 1016.9L1590.3 1015.0M1594.8 999.3L1595.1 998.1M1599.5 982.5L1600.0 980.6L1600.5 978.8L1601.0 976.9L1601.5 975.0L1602.0 973.2L1602.5 971.3L1603.0 969.4L1603.5 967.5L1603.9 965.7L1604.4 963.8L1604.9 961.9M1608.9 946.1L1609.2 945.0M1613.1 929.0L1613.5 927.1L1614.0 925.2L1614.4 923.3L1614.9 921.5L1615.3 919.6L1615.7 917.7L1616.2 915.8L1616.6 913.9L1617.0 912.0L1617.4 910.1L1617.9 908.2M1621.3 892.0L1621.5 890.8M1624.6 874.8L1624.9 872.9L1625.2 871.0L1625.6 869.0L1625.9 867.1L1626.3 865.1L1626.6 863.2L1626.9 861.3L1627.2 859.3L1627.6 857.4L1627.9 855.4L1628.2 853.5M1630.9 837.4L1631.1 836.2M1634.0 819.1L1634.4 817.2L1634.8 815.3L1635.1 813.4L1635.5 811.5L1635.9 809.5L1636.3 807.6L1636.7 805.7L1637.1 803.8L1637.5 801.9L1637.9 800.0L1638.3 798.0M1642.5 781.6L1642.9 780.4M1647.5 767.5L1648.3 765.8L1649.0 764.1L1649.8 762.4L1650.6 760.7L1651.5 759.1L1652.3 757.4L1653.2 755.8L1654.2 754.2L1655.1 752.6L1656.1 751.0L1657.1 749.5M1664.5 738.6L1665.2 737.7M1674.5 725.7L1675.8 724.1L1677.0 722.5L1678.2 720.9L1679.4 719.3L1680.6 717.7L1681.7 716.1L1682.9 714.5L1684.0 712.8L1685.1 711.1L1686.2 709.5M1693.5 695.6L1694.0 694.6M1699.4 679.9L1700.0 678.1L1700.5 676.2L1701.0 674.4L1701.5 672.5L1702.0 670.6L1702.5 668.7L1702.9 666.9L1703.4 665.0L1703.8 663.1L1704.3 661.2L1704.7 659.3M1708.7 643.9L1709.1 642.8M1714.5 628.6L1715.3 626.9L1716.2 625.3L1717.1 623.8L1718.0 622.2L1719.0 620.7L1720.0 619.2L1721.1 617.7L1722.2 616.3L1723.4 614.9L1724.6 613.5L1725.9 612.2M1736.5 602.9L1737.3 602.2M1748.8 591.7L1750.4 590.7L1752.0 589.7L1753.6 588.8L1755.3 587.9L1757.0 587.1L1758.7 586.2L1760.4 585.4L1762.1 584.6L1763.8 583.8L1765.5 582.9M1779.4 578.1L1780.4 578.4M1789.5 590.1L1790.3 591.8L1791.1 593.6L1791.9 595.3L1792.6 597.0L1793.3 598.8L1794.0 600.5L1794.7 602.3L1795.4 604.0L1796.0 605.8L1796.7 607.6L1797.4 609.3M1802.9 624.3L1803.3 625.4M1808.6 640.9L1809.1 642.7L1809.7 644.6L1810.2 646.5L1810.8 648.3L1811.3 650.2L1811.8 652.0L1812.3 653.9L1812.8 655.8L1813.2 657.6L1813.7 659.5L1814.2 661.4M1817.9 677.7L1818.2 678.8M1821.7 695.4L1822.1 697.3L1822.5 699.2L1822.9 701.1L1823.3 703.0L1823.7 705.0L1824.1 706.9L1824.5 708.8L1824.9 710.7L1825.4 712.6L1825.8 714.5L1826.2 716.4M1829.8 732.9L1830.1 734.1M1833.6 749.9L1834.0 751.8L1834.5 753.7L1834.9 755.6L1835.3 757.5L1835.7 759.4L1836.2 761.3L1836.6 763.2L1837.0 765.1L1837.5 767.0L1837.9 768.9L1838.3 770.8M1841.9 786.6L1842.1 787.7M1845.8 804.3L1846.3 806.2L1846.7 808.1L1847.1 810.0L1847.5 811.9L1848.0 813.8L1848.4 815.7L1848.8 817.6L1849.2 819.5L1849.7 821.4L1850.1 823.3L1850.5 825.2M1854.1 841.7L1854.3 842.9M1857.8 859.2L1858.2 861.1L1858.6 863.0L1859.0 864.9L1859.4 866.9L1859.8 868.8L1860.2 870.7L1860.6 872.6L1861.0 874.5L1861.4 876.4L1861.7 878.4L1862.1 880.3M1865.3 895.9L1865.7 897.8L1866.0 899.7L1866.4 901.6L1866.8 903.5L1867.2 905.5L1867.6 907.4L1867.9 909.3L1868.3 911.2L1868.7 913.2L1869.1 915.1L1869.5 917.0M1872.6 933.4L1872.9 934.6M1876.0 951.1L1876.4 953.1L1876.7 955.0L1877.1 956.9L1877.5 958.8L1877.8 960.8L1878.2 962.7L1878.6 964.6L1878.9 966.6L1879.3 968.5L1879.6 970.4L1880.0 972.4M1883.1 988.9L1883.3 990.1M1886.4 1007.0L1886.8 1008.9L1887.2 1010.9L1887.6 1012.8L1887.9 1014.7L1888.3 1016.6L1888.7 1018.6L1889.1 1020.5L1889.5 1022.4L1889.8 1024.3L1890.2 1026.2L1890.6 1028.2M1894.4 1044.8L1894.6 1046.0M1898.7 1061.7L1899.3 1063.5L1899.8 1065.4L1900.3 1067.2L1900.9 1069.0L1901.5 1070.9L1902.0 1072.7L1902.6 1074.5L1903.2 1076.4L1903.8 1078.2L1904.4 1080.0L1905.0 1081.8M1910.2 1096.9L1910.6 1098.0M1916.8 1114.6L1917.5 1116.3L1918.2 1118.1L1918.9 1119.8L1919.6 1121.6L1920.3 1123.4L1920.9 1125.1L1921.6 1126.9L1922.3 1128.6L1923.0 1130.4L1923.7 1132.2L1924.4 1133.9M1931.7 1149.7L1932.3 1150.7M1940.5 1162.7L1941.4 1164.3L1942.3 1166.0L1943.1 1167.7L1943.8 1169.4L1944.5 1171.2L1945.2 1173.0L1945.9 1174.7L1946.5 1176.5L1947.1 1178.3L1947.7 1180.1L1948.3 1181.9M1953.9 1195.9L1954.4 1196.9M1963.5 1209.3L1964.9 1210.7L1966.2 1212.1L1967.6 1213.4L1969.0 1214.7L1970.5 1216.0L1971.9 1217.3L1973.4 1218.5L1974.9 1219.8L1976.4 1221.0L1977.9 1222.2"/>
<path stroke="#008000" d="M295.9 846.0L296.4 847.4L296.9 848.8L297.4 850.2L297.9 851.7L298.4 853.1L298.9 854.5L299.4 855.9L299.8 857.3L300.3 858.8L300.8 860.2L301.2 861.6L301.7 863.1L302.1 864.5L302.5 865.9L303.0 867.4L303.4 868.8L303.8 870.2L304.2 871.7L304.6 873.1L305.0 874.6L305.4 876.0L305.8 877.5L306.2 878.9L306.6 880.4L306.9 881.8L307.3 883.3L307.7 884.7L308.0 886.2L308.4 887.6L308.7 889.1L309.1 890.6L309.4 892.0L309.8 893.5L310.1 894.9L310.4 896.4L310.7 897.9L311.1 899.3L311.4 900.8L311.7 902.3L312.0 903.7L312.3 905.2L312.6 906.7L312.9 908.1L313.2 909.6L313.5 911.1L313.8 912.6L314.1 914.0L314.4 915.5L314.6 917.0L314.9 918.5L315.2 919.9L315.5 921.4L315.7 922.9L316.0 924.4L316.3 925.8L316.5 927.3L316.8 928.8L317.0 930.3L317.3 931.7L317.5 933.2L317.8 934.7L318.0 936.2L318.3 937.7L318.5 939.1L318.8 940.6L319.0 942.1L319.3 943.6L319.5 945.1L319.7 946.5L320.0 948.0L320.2 949.5L320.4 951.0L320.7 952.5L320.9 953.9L321.1 955.4L321.4 956.9L321.6 958.4L321.8 959.9L322.1 961.3L322.3 962.8L322.5 964.3L322.8 965.8L323.0 967.3L323.2 968.8L323.5 970.2L323.7 971.7L323.9 973.2L324.2 974.7L324.4 976.2L324.6 977.6L324.9 979.1L325.1 980.6L325.3 982.1L325.6 983.6L325.8 985.1L326.0 986.5L326.3 988.0L326.5 989.5L326.8 991.0L327.0 992.5L327.3 993.9L327.5 995.4L327.8 996.9L328.0 998.4L328.3 999.8L328.5 1001.3L328.8 1002.8L329.0 1004.3L329.3 1005.8L329.6 1007.2L329.8 1008.7L330.1 1010.2L330.3 1011.7L330.6 1013.1L330.9 1014.6L331.2 1016.1L331.4 1017.6L331.7 1019.0L332.0 1020.5L332.3 1022.0L332.5 1023.5L332.8 1024.9L333.1 1026.4L333.4 1027.9L333.7 1029.3L334.0 1030.8L334.3 1032.3L334.5 1033.8L334.8 1035.2L335.1 1036.7L335.4 1038.2L335.7 1039.6L336.0 1041.1L336.3 1042.6L336.6 1044.1L336.9 1045.5L337.2 1047.0L337.6 1048.5L337.9 1049.9L338.2 1051.4L338.5 1052.9L338.8 1054.3L339.1 1055.8L339.4 1057.3L339.8 1058.7L340.1 1060.2L340.4 1061.6L340.7 1063.1L341.0 1064.6L341.4 1066.0L341.7 1067.5L342.0 1069.0L342.4 1070.4L342.7 1071.9L343.0 1073.4L343.4 1074.8L343.7 1076.3L344.0 1077.7L344.4 1079.2L344.7 1080.7L345.1 1082.1L345.4 1083.6L345.8 1085.0L346.1 1086.5L346.5 1088.0L346.8 1089.4L347.2 1090.9L347.5 1092.3L347.9 1093.8L348.2 1095.2L348.6 1096.7L349.0 1098.1L349.3 1099.6L349.7 1101.1L350.1 1102.5L350.5 1104.0L350.9 1105.4L351.3 1106.8L351.7 1108.3L352.1 1109.7L352.6 1111.1L353.0 1112.6L353.5 1114.0L354.0 1115.4L354.5 1116.8L355.0 1118.2L355.5 1119.6L356.1 1121.0L356.7 1122.4L357.2 1123.8L357.9 1125.2L358.5 1126.5L359.1 1127.9L359.8 1129.2L360.5 1130.6L361.2 1131.9L362.0 1133.2L362.7 1134.5L363.5 1135.7L364.3 1137.0L365.2 1138.3L366.0 1139.5L366.9 1140.7L367.7 1141.9L368.6 1143.1L369.5 1144.4L370.4 1145.6L371.3 1146.7L372.2 1147.9L373.1 1149.1L374.1 1150.3L375.0 1151.5L375.9 1152.7L376.7 1153.9L377.6 1155.1L378.5 1156.4L379.4 1157.6L380.2 1158.8L381.0 1160.1L381.8 1161.4L382.6 1162.6L383.4 1163.9L384.1 1165.2L384.8 1166.6L385.5 1167.9L386.1 1169.2L386.7 1170.6L387.3 1172.0L387.9 1173.4L388.4 1174.8L389.0 1176.2L389.5 1177.6L390.0 1179.0L390.5 1180.4L391.0 1181.8L391.4 1183.3L391.9 1184.7L392.4 1186.1L392.9 1187.5L393.4 1188.9L393.9 1190.3L394.5 1191.7L395.0 1193.2L395.5 1194.6L396.0 1196.0L396.5 1197.4L397.1 1198.8L397.6 1200.2L398.1 1201.6L398.7 1203.0L399.2 1204.4L399.8 1205.8L400.3 1207.2L400.8 1208.6L401.4 1210.0L401.9 1211.4L402.5 1212.8L403.0 1214.2L403.6 1215.6L404.1 1217.0L404.7 1218.3L405.2 1219.7L405.8 1221.1L406.3 1222.5L406.9 1223.9L407.4 1225.3L407.9 1226.7L408.5 1228.1L409.0 1229.5L409.6 1230.9L410.1 1232.3L410.6 1233.7L411.2 1235.1L411.7 1236.5L412.2 1238.0L412.7 1239.4L413.2 1240.8L413.7 1242.2L414.2 1243.6L414.6 1245.0L415.1 1246.5L415.6 1247.9L416.0 1249.3L416.5 1250.7L417.0 1252.2L417.6 1253.5L418.2 1254.9L418.9 1256.2L419.7 1257.5L420.6 1258.7L421.7 1259.7L422.8 1260.7L424.1 1261.5L425.5 1262.1L426.9 1262.5L428.4 1262.6L429.9 1262.6L431.4 1262.4L432.9 1262.1L434.3 1261.7L435.7 1261.1L437.1 1260.5L438.4 1259.9L439.8 1259.2L441.1 1258.4L442.3 1257.6L443.6 1256.8L444.8 1256.0L446.1 1255.2L447.4 1254.3L448.6 1253.6L449.9 1252.8L451.3 1252.1L452.6 1251.5L454.0 1251.0L455.5 1250.6L456.9 1250.2L458.4 1250.0L459.9 1249.9L461.4 1249.9L462.9 1250.0L464.4 1250.2L465.9 1250.4L467.4 1250.7L468.8 1251.0L470.3 1251.4L471.8 1251.7L473.2 1252.0L474.7 1252.3L476.1 1252.6L477.6 1252.9L479.1 1253.1L480.6 1253.2L482.1 1253.2L483.6 1253.1L485.1 1252.8L486.5 1252.3L487.8 1251.5L489.0 1250.6L490.1 1249.6L491.1 1248.5L492.0 1247.3L492.8 1246.1L493.6 1244.8L494.3 1243.5L495.0 1242.1L495.7 1240.8L496.3 1239.4L496.9 1238.1L497.5 1236.7L498.1 1235.3L498.7 1234.0L499.4 1232.6L500.0 1231.2L500.6 1229.9L501.3 1228.5L501.9 1227.2L502.6 1225.8L503.2 1224.4L503.8 1223.1L504.4 1221.7L505.1 1220.4L505.7 1219.0L506.3 1217.6L506.9 1216.2L507.4 1214.8L508.0 1213.4L508.5 1212.0L509.0 1210.6L509.6 1209.2L510.1 1207.8L510.6 1206.4L511.1 1205.0L511.5 1203.6L512.0 1202.1L512.5 1200.7L512.9 1199.3L513.4 1197.9L513.8 1196.4L514.3 1195.0L514.7 1193.6L515.1 1192.1L515.5 1190.7L516.0 1189.2L516.4 1187.8L516.8 1186.4L517.2 1184.9L517.6 1183.5L518.0 1182.0L518.4 1180.6L518.8 1179.1L519.3 1177.7L519.7 1176.3L520.1 1174.8L520.5 1173.4L520.9 1171.9L521.3 1170.5L521.8 1169.1L522.2 1167.6L522.6 1166.2L523.0 1164.7L523.5 1163.3L523.9 1161.9L524.4 1160.4L524.8 1159.0L525.2 1157.6L525.7 1156.1L526.1 1154.7L526.6 1153.3L527.0 1151.9L527.5 1150.4L528.0 1149.0L528.4 1147.6L528.9 1146.1L529.4 1144.7L529.8 1143.3L530.3 1141.9L530.8 1140.5L531.3 1139.0L531.8 1137.6L532.3 1136.2L532.7 1134.8L533.2 1133.4L533.7 1132.0L534.3 1130.5L534.8 1129.1L535.3 1127.7L535.8 1126.3L536.3 1124.9L536.8 1123.5L537.4 1122.1L537.9 1120.7L538.4 1119.3L539.0 1117.9L539.5 1116.5L540.1 1115.1L540.6 1113.7L541.2 1112.3L541.7 1110.9L542.3 1109.5L542.9 1108.2L543.5 1106.8L544.0 1105.4L544.6 1104.0L545.2 1102.6L545.8 1101.3L546.4 1099.9L547.0 1098.5L547.6 1097.1L548.2 1095.8L548.9 1094.4L549.5 1093.0L550.1 1091.7L550.7 1090.3L551.3 1088.9L551.9 1087.6L552.5 1086.2L553.1 1084.8L553.7 1083.4L554.3 1082.1L554.9 1080.7L555.5 1079.3L556.1 1077.9L556.6 1076.5L557.2 1075.1L557.7 1073.7L558.2 1072.3L558.7 1070.9L559.2 1069.5L559.7 1068.1L560.2 1066.6L560.6 1065.2L561.1 1063.8L561.5 1062.4L561.9 1060.9L562.3 1059.5L562.7 1058.0L563.1 1056.6L563.5 1055.1L563.9 1053.7L564.3 1052.2L564.6 1050.8L565.0 1049.3L565.3 1047.8L565.6 1046.4L566.0 1044.9L566.3 1043.5L566.6 1042.0L566.9 1040.5L567.2 1039.1L567.5 1037.6L567.8 1036.1L568.1 1034.6L568.4 1033.2L568.7 1031.7L569.0 1030.2L569.3 1028.8L569.6 1027.3L569.9 1025.8L570.2 1024.3L570.5 1022.9L570.7 1021.4L571.0 1019.9L571.3 1018.5L571.6 1017.0L571.9 1015.5L572.1 1014.0L572.4 1012.6L572.7 1011.1L572.9 1009.6L573.2 1008.1L573.5 1006.7L573.7 1005.2L574.0 1003.7L574.3 1002.2L574.5 1000.7L574.8 999.3L575.0 997.8L575.3 996.3L575.6 994.8L575.8 993.4L576.1 991.9L576.3 990.4L576.6 988.9L576.8 987.4L577.0 986.0L577.3 984.5L577.5 983.0L577.8 981.5L578.0 980.0L578.3 978.6L578.5 977.1L578.7 975.6L579.0 974.1L579.2 972.6L579.4 971.2L579.7 969.7L579.9 968.2L580.1 966.7L580.4 965.2L580.6 963.8L580.8 962.3L581.1 960.8L581.3 959.3L581.5 957.8L581.7 956.3L582.0 954.9L582.2 953.4L582.4 951.9L582.6 950.4L582.9 948.9L583.1 947.4L583.3 946.0L583.5 944.5L583.7 943.0L584.0 941.5L584.2 940.0L584.4 938.5L584.6 937.1L584.8 935.6L585.1 934.1L585.3 932.6L585.5 931.1L585.7 929.6L585.9 928.2L586.1 926.7L586.3 925.2L586.6 923.7L586.8 922.2L587.0 920.7L587.2 919.2L587.4 917.8L587.6 916.3L587.8 914.8L588.0 913.3L588.3 911.8L588.5 910.3L588.7 908.9L588.9 907.4L589.1 905.9L589.3 904.4L589.5 902.9L589.7 901.4L589.9 899.9L590.2 898.5L590.4 897.0L590.6 895.5L590.8 894.0L591.0 892.5L591.2 891.0L591.4 889.6L591.6 888.1L591.9 886.6L592.1 885.1L592.3 883.6L592.5 882.1L592.7 880.6L592.9 879.2L593.1 877.7L593.3 876.2L593.6 874.7L593.8 873.2L594.0 871.7L594.2 870.3L594.4 868.8L594.6 867.3L594.9 865.8L595.1 864.3L595.3 862.8L595.5 861.4L595.7 859.9L596.0 858.4L596.2 856.9L596.4 855.4L596.6 853.9L596.9 852.5L597.1 851.0L597.3 849.5L597.5 848.0L597.8 846.5L598.0 845.0L598.2 843.6L598.5 842.1L598.7 840.6L598.9 839.1L599.1 837.6L599.4 836.2L599.6 834.7L599.9 833.2L600.1 831.7L600.3 830.2L600.6 828.7L600.8 827.3L601.0 825.8L601.3 824.3L601.5 822.8L601.8 821.3L602.0 819.9L602.3 818.4L602.6 816.9L602.8 815.4L603.1 814.0L603.4 812.5L603.7 811.0L604.0 809.6L604.3 808.1L604.7 806.6L605.0 805.2L605.4 803.7L605.8 802.3L606.2 800.8L606.6 799.4L607.1 798.0L607.6 796.5L608.1 795.1L608.6 793.7L609.1 792.3L609.7 790.9L610.3 789.6L610.9 788.2L611.6 786.9L612.3 785.5L613.2 784.3L614.1 783.2L615.3 782.2L616.6 781.5L618.0 781.1L619.5 781.0L621.0 781.2L622.5 781.4L624.0 781.6L625.5 781.6L627.0 781.5L628.4 780.9L629.6 780.1L630.8 779.2L631.9 778.2L633.0 777.2L634.2 776.3L635.6 775.7L637.1 775.5L638.6 775.6L640.1 775.8L641.6 776.0L643.1 776.0L644.5 775.9L645.9 775.2L646.9 774.2L647.8 772.9L648.5 771.6L649.0 770.2L649.5 768.8L650.0 767.3L650.4 765.9L650.8 764.5L651.2 763.0L651.5 761.5L651.8 760.1L652.2 758.6L652.4 757.1L652.7 755.7L653.0 754.2L653.2 752.7L653.4 751.2L653.7 749.7L653.9 748.3L654.1 746.8L654.3 745.3L654.5 743.8L654.7 742.3L655.0 740.8L655.2 739.4L655.4 737.9L655.6 736.4L655.9 734.9L656.1 733.4L656.3 731.9L656.6 730.5L656.8 729.0L657.1 727.5L657.3 726.0L657.6 724.6L657.8 723.1L658.1 721.6L658.3 720.1L658.6 718.6L658.9 717.2L659.1 715.7L659.4 714.2L659.7 712.7L660.0 711.3L660.2 709.8L660.5 708.3L660.8 706.9L661.1 705.4L661.4 703.9L661.7 702.4L662.0 701.0L662.4 699.5L662.7 698.0L663.0 696.6L663.3 695.1L663.7 693.7L664.1 692.2L664.5 690.8L665.1 689.4L665.7 688.0L666.5 686.8L667.5 685.6L668.6 684.7L670.0 684.2L671.5 684.0L673.0 684.2L674.4 684.7L675.6 685.6L676.5 686.8L677.1 688.2L677.6 689.6L678.0 691.1L678.4 692.5L678.8 694.0L679.2 695.4L679.7 696.8L680.1 698.3L680.6 699.7L681.0 701.1L681.5 702.5L682.0 703.9L682.6 705.3L683.1 706.8L683.6 708.2L684.1 709.6L684.6 711.0L685.1 712.4L685.6 713.8L686.1 715.2L686.6 716.6L687.1 718.1L687.6 719.5L688.1 720.9L688.6 722.3L689.1 723.7L689.5 725.1L690.0 726.6L690.5 728.0L691.0 729.4L691.5 730.8L692.0 732.2L692.5 733.7L693.0 735.1L693.5 736.5L694.0 737.9L694.5 739.3L695.0 740.7L695.5 742.1L696.0 743.5L696.5 745.0L697.0 746.4L697.5 747.8L698.1 749.2L698.6 750.6L699.1 752.0L699.7 753.4L700.2 754.8L700.7 756.2L701.3 757.6L701.8 759.0L702.4 760.4L703.0 761.7L703.7 763.1L704.6 764.2L705.9 765.0L707.4 764.9L708.7 764.2L709.7 763.1L710.5 761.9L711.2 760.5L711.8 759.1L712.3 757.7L712.8 756.3L713.2 754.9L713.5 753.4L713.8 751.9L714.1 750.5L714.3 749.0L714.5 747.5L714.7 746.0L714.8 744.5L714.9 743.0L715.0 741.5L715.1 740.0L715.3 738.5L715.4 737.0L715.5 735.5L715.6 734.0L715.8 732.6L716.0 731.1L716.1 729.6L716.3 728.1L716.5 726.6L716.7 725.1L716.9 723.6L717.1 722.1L717.3 720.6L717.5 719.2L717.7 717.7L717.9 716.2L718.1 714.7L718.3 713.2L718.5 711.7L718.7 710.3L718.9 708.8L719.1 707.3L719.3 705.8L719.5 704.3L719.7 702.8L719.9 701.3L720.1 699.9L720.3 698.4L720.5 696.9L720.7 695.4L720.9 693.9L721.1 692.4L721.3 690.9L721.5 689.4L721.7 688.0L721.9 686.5L722.1 685.0L722.3 683.5L722.5 682.0L722.6 680.5L722.8 679.0L723.0 677.5L723.2 676.0L723.4 674.6L723.5 673.1L723.7 671.6L723.9 670.1L724.1 668.6L724.2 667.1L724.4 665.6L724.6 664.1L724.7 662.6L724.9 661.2L725.1 659.7L725.2 658.2L725.4 656.7L725.6 655.2L725.7 653.7L725.9 652.2L726.0 650.7L726.2 649.2L726.4 647.7L726.5 646.2L726.7 644.7L726.8 643.3L727.0 641.8L727.1 640.3L727.3 638.8L727.4 637.3L727.6 635.8L727.7 634.3L727.8 632.8L728.0 631.3L728.1 629.8L728.3 628.3L728.4 626.8L728.5 625.3L728.7 623.9L728.8 622.4L729.0 620.9L729.1 619.4L729.3 617.9L729.5 616.4L729.7 614.9L729.9 613.4L730.1 611.9L730.3 610.4L730.5 609.0L730.7 607.5L731.0 606.0L731.3 604.5L731.6 603.1L731.9 601.6L732.2 600.1L732.6 598.7L733.0 597.2L733.4 595.8L733.8 594.3L734.3 592.9L734.7 591.5L735.2 590.1L735.8 588.7L736.3 587.3L736.9 585.9L737.6 584.6L738.2 583.2L739.0 581.9L740.0 580.8L741.4 580.7L742.6 581.6L743.6 582.7L744.5 583.9L745.2 585.2L746.0 586.5L746.7 587.8L747.3 589.2L748.0 590.5L748.5 591.9L749.1 593.3L749.5 594.7L750.0 596.2L750.4 597.6L750.7 599.1L751.0 600.6L751.3 602.0L751.5 603.5L751.8 605.0L752.0 606.5L752.2 608.0L752.4 609.4L752.6 610.9L752.8 612.4L753.1 613.9L753.3 615.4L753.6 616.8L753.9 618.3L754.3 619.8L754.6 621.2L754.9 622.7L755.3 624.2L755.6 625.6L756.0 627.1L756.4 628.5L756.8 630.0L757.1 631.4L757.5 632.9L757.9 634.3L758.3 635.8L758.6 637.2L759.0 638.7L759.4 640.1L759.7 641.6L760.1 643.0L760.4 644.5L760.8 646.0L761.1 647.4L761.4 648.9L761.8 650.4L762.1 651.8L762.3 653.3L762.6 654.8L762.9 656.3L763.1 657.7L763.3 659.2L763.5 660.7L763.8 662.2L764.1 663.7L764.4 665.1L764.9 666.5L765.6 667.9L766.4 669.2L767.3 670.3L768.4 671.4L769.6 672.2L771.0 672.6L772.5 672.4L773.8 671.7L775.0 670.7L776.0 669.6L776.9 668.5L777.8 667.3L778.6 666.0L779.4 664.7L780.1 663.4L780.7 662.0L781.3 660.6L781.8 659.2L782.3 657.8L782.8 656.4L783.2 655.0L783.7 653.5L784.1 652.1L784.5 650.7L785.0 649.2L785.4 647.8L785.8 646.3L786.2 644.9L786.6 643.5L787.1 642.0L787.5 640.6L787.9 639.1L788.3 637.7L788.7 636.3L789.1 634.8L789.5 633.4L789.9 631.9L790.3 630.5L790.7 629.0L791.0 627.6L791.4 626.1L791.7 624.6L792.0 623.2L792.4 621.7L792.7 620.3L793.0 618.8L793.4 617.3L793.7 615.9L794.0 614.4L794.4 612.9L794.7 611.5L795.0 610.0L795.4 608.6L795.7 607.1L796.1 605.6L796.5 604.2L796.8 602.7L797.2 601.3L797.7 599.9L798.2 598.4L798.8 597.1L799.5 595.8L800.6 594.7L802.0 594.8L803.2 595.7L804.2 596.8L805.0 598.0L805.8 599.3L806.5 600.6L807.2 602.0L807.8 603.3L808.4 604.7L808.9 606.1L809.4 607.6L809.9 609.0L810.2 610.4L810.6 611.9L810.9 613.4L811.2 614.8L811.5 616.3L811.8 617.8L812.0 619.3L812.2 620.7L812.5 622.2L812.7 623.7L813.0 625.2L813.2 626.7L813.4 628.1L813.7 629.6L813.9 631.1L814.1 632.6L814.4 634.1L814.6 635.5L814.8 637.0L815.1 638.5L815.3 640.0L815.5 641.5L815.7 643.0L816.0 644.4L816.2 645.9L816.4 647.4L816.6 648.9L816.9 650.4L817.1 651.9L817.3 653.3L817.5 654.8L817.7 656.3L818.0 657.8L818.2 659.3L818.4 660.8L818.6 662.2L818.8 663.7L819.0 665.2L819.3 666.7L819.5 668.2L819.7 669.7L819.9 671.1L820.1 672.6L820.3 674.1L820.5 675.6L820.7 677.1L820.9 678.6L821.2 680.1L821.4 681.5L821.6 683.0L821.8 684.5L822.0 686.0L822.2 687.5L822.4 689.0L822.6 690.5L822.8 691.9L823.0 693.4L823.2 694.9L823.4 696.4L823.7 697.9L823.9 699.4L824.1 700.9L824.3 702.3L824.5 703.8L824.7 705.3L824.9 706.8L825.1 708.3L825.3 709.8L825.5 711.3L825.7 712.7L825.9 714.2L826.1 715.7L826.3 717.2L826.5 718.7L826.7 720.2L826.9 721.7L827.1 723.1L827.4 724.6L827.6 726.1L827.8 727.6L828.0 729.1L828.2 730.6L828.4 732.0L828.6 733.5L828.8 735.0L829.0 736.5L829.2 738.0L829.4 739.5L829.6 741.0L829.8 742.4L830.1 743.9L830.3 745.4L830.5 746.9L830.7 748.4L830.9 749.9L831.1 751.4L831.3 752.8L831.5 754.3L831.7 755.8L832.0 757.3L832.2 758.8L832.4 760.3L832.6 761.7L832.8 763.2L833.0 764.7L833.3 766.2L833.5 767.7L833.7 769.2L833.9 770.6L834.1 772.1L834.4 773.6L834.6 775.1L834.8 776.6L835.0 778.1L835.3 779.5L835.5 781.0L835.7 782.5L835.9 784.0L836.2 785.5L836.4 787.0L836.6 788.4L836.8 789.9L837.1 791.4L837.3 792.9L837.5 794.4L837.8 795.8L838.0 797.3L838.3 798.8L838.5 800.3L838.7 801.8L839.0 803.3L839.2 804.7L839.5 806.2L839.7 807.7L839.9 809.2L840.2 810.7L840.4 812.1L840.7 813.6L840.9 815.1L841.2 816.6L841.5 818.0L841.7 819.5L842.0 821.0L842.2 822.5L842.5 824.0L842.7 825.4L843.0 826.9L843.3 828.4L843.5 829.9L843.8 831.3L844.1 832.8L844.4 834.3L844.6 835.8L844.9 837.2L845.2 838.7L845.5 840.2L845.8 841.6L846.0 843.1L846.3 844.6L846.6 846.1L846.9 847.5L847.2 849.0L847.5 850.5L847.8 851.9L848.1 853.4L848.4 854.9L848.7 856.4L849.0 857.8L849.3 859.3L849.6 860.8L849.9 862.2L850.2 863.7L850.6 865.2L851.0 866.6L851.4 868.0L851.9 869.5L852.5 870.8L853.2 872.1L854.1 873.4L855.1 874.5L856.2 875.5L857.4 876.4L858.7 877.2L860.0 877.9L861.3 878.6L862.6 879.4L863.8 880.2L865.0 881.2L866.1 882.2L867.1 883.3L868.0 884.5L868.9 885.7L869.7 887.0L870.4 888.3L871.0 889.7L871.5 891.1L872.1 892.5L872.5 893.9L872.9 895.3L873.3 896.8L873.7 898.3L874.0 899.7L874.3 901.2L874.7 902.6L875.0 904.1L875.3 905.6L875.6 907.0L875.9 908.5L876.2 910.0L876.5 911.4L876.8 912.9L877.1 914.4L877.4 915.9L877.7 917.3L878.0 918.8L878.4 920.3L878.7 921.7L879.0 923.2L879.3 924.7L879.6 926.1L879.9 927.6L880.2 929.1L880.5 930.5L880.8 932.0L881.1 933.5L881.4 934.9L881.7 936.4L882.0 937.9L882.3 939.4L882.6 940.8L882.9 942.3L883.2 943.8L883.4 945.2L883.7 946.7L884.0 948.2L884.3 949.7L884.6 951.1L884.9 952.6L885.2 954.1L885.4 955.5L885.7 957.0L886.0 958.5L886.3 960.0L886.6 961.4L886.8 962.9L887.1 964.4L887.4 965.9L887.6 967.3L887.9 968.8L888.2 970.3L888.4 971.8L888.7 973.2L889.0 974.7L889.2 976.2L889.5 977.7L889.8 979.1L890.0 980.6L890.3 982.1L890.5 983.6L890.8 985.1L891.0 986.5L891.3 988.0L891.5 989.5L891.8 991.0L892.0 992.5L892.3 993.9L892.5 995.4L892.8 996.9L893.0 998.4L893.3 999.8L893.5 1001.3L893.8 1002.8L894.0 1004.3L894.3 1005.8L894.5 1007.2L894.7 1008.7L895.0 1010.2L895.2 1011.7L895.5 1013.2L895.7 1014.6L896.0 1016.1L896.2 1017.6L896.4 1019.1L896.7 1020.6L896.9 1022.0L897.2 1023.5L897.4 1025.0L897.6 1026.5L897.9 1028.0L898.1 1029.4L898.4 1030.9L898.6 1032.4L898.8 1033.9L899.1 1035.4L899.3 1036.8L899.6 1038.3L899.8 1039.8L900.1 1041.3L900.3 1042.8L900.5 1044.2L900.8 1045.7L901.0 1047.2L901.3 1048.7L901.5 1050.2L901.8 1051.6L902.0 1053.1L902.3 1054.6L902.5 1056.1L902.7 1057.6L903.0 1059.0L903.2 1060.5L903.5 1062.0L903.7 1063.5L904.0 1065.0L904.3 1066.4L904.5 1067.9L904.8 1069.4L905.0 1070.9L905.3 1072.3L905.5 1073.8L905.8 1075.3L906.0 1076.8L906.3 1078.3L906.6 1079.7L906.8 1081.2L907.1 1082.7L907.4 1084.2L907.6 1085.6L907.9 1087.1L908.2 1088.6L908.4 1090.1L908.7 1091.5L909.0 1093.0L909.3 1094.5L909.5 1096.0L909.8 1097.4L910.1 1098.9L910.4 1100.4L910.7 1101.9L911.0 1103.3L911.2 1104.8L911.5 1106.3L911.8 1107.7L912.1 1109.2L912.4 1110.7L912.7 1112.2L913.0 1113.6L913.3 1115.1L913.6 1116.6L913.9 1118.0L914.2 1119.5L914.5 1121.0L914.8 1122.4L915.1 1123.9L915.4 1125.4L915.7 1126.8L916.1 1128.3L916.4 1129.8L916.7 1131.2L917.0 1132.7L917.3 1134.2L917.7 1135.6L918.0 1137.1L918.3 1138.6L918.6 1140.0L919.0 1141.5L919.3 1142.9L919.6 1144.4L920.0 1145.9L920.3 1147.3L920.7 1148.8L921.1 1150.2L921.5 1151.7L922.1 1153.0L922.8 1154.4L923.6 1155.7L924.5 1156.9L925.5 1157.9L926.7 1158.8L928.2 1159.1L929.6 1158.5L930.7 1157.5L931.6 1156.3L932.3 1155.0L933.0 1153.7L933.6 1152.3L934.2 1151.0L934.8 1149.6L935.3 1148.2L936.0 1146.8L936.7 1145.5L937.6 1144.3L938.7 1143.3L939.9 1142.3L941.2 1141.6L942.6 1141.2L944.1 1141.1L945.5 1141.5L946.8 1142.2L948.0 1143.1L949.1 1144.2L950.1 1145.3L951.1 1146.4L952.0 1147.6L952.8 1148.9L953.6 1150.1L954.4 1151.4L955.1 1152.8L955.7 1154.1L956.3 1155.5L956.9 1156.9L957.4 1158.3L957.9 1159.7L958.4 1161.1L958.8 1162.6L959.2 1164.0L959.6 1165.5L960.0 1166.9L960.4 1168.4L960.7 1169.8L961.1 1171.3L961.5 1172.7L961.9 1174.2L962.2 1175.6L962.6 1177.1L963.0 1178.5L963.4 1180.0L963.7 1181.4L964.1 1182.9L964.5 1184.3L964.9 1185.8L965.3 1187.2L965.7 1188.7L966.1 1190.1L966.4 1191.6L966.8 1193.0L967.2 1194.5L967.6 1195.9L968.0 1197.4L968.4 1198.8L968.8 1200.2L969.3 1201.7L969.7 1203.1L970.1 1204.6L970.5 1206.0L970.9 1207.4L971.4 1208.9L971.8 1210.3L972.2 1211.8L972.7 1213.2L973.1 1214.6L973.5 1216.1L974.0 1217.5L974.4 1218.9L974.9 1220.3L975.4 1221.8L975.8 1223.2L976.3 1224.6L976.8 1226.0L977.3 1227.5L977.7 1228.9L978.2 1230.3L978.7 1231.7L979.2 1233.1L979.7 1234.5L980.2 1236.0L980.8 1237.4L981.3 1238.8L981.8 1240.2L982.3 1241.6L982.9 1243.0L983.5 1244.3L984.2 1245.7L984.9 1247.0L985.8 1248.2L986.8 1249.3L987.8 1250.4L989.0 1251.3L990.3 1252.0L991.8 1252.4L993.2 1252.1L994.4 1251.2L995.4 1250.1L996.2 1248.8L996.8 1247.4L997.4 1246.1L998.0 1244.7L998.5 1243.3L999.0 1241.9L999.5 1240.4L999.9 1239.0L1000.3 1237.6L1000.7 1236.1L1001.1 1234.7L1001.5 1233.2L1001.9 1231.8L1002.3 1230.3L1002.7 1228.9L1003.1 1227.4L1003.5 1226.0L1004.0 1224.6L1004.4 1223.1L1004.8 1221.7L1005.2 1220.2L1005.6 1218.8L1006.1 1217.4L1006.5 1215.9L1006.8 1214.5L1007.2 1213.0L1007.6 1211.6L1008.0 1210.1L1008.4 1208.7L1008.8 1207.2L1009.2 1205.8L1009.7 1204.4L1010.2 1202.9L1010.7 1201.5L1011.3 1200.2L1011.9 1198.8L1012.6 1197.5L1013.4 1196.2L1014.2 1194.9L1015.1 1193.7L1016.1 1192.6L1017.1 1191.5L1018.3 1190.5L1019.5 1189.6L1020.7 1188.8L1022.1 1188.2L1023.5 1187.7L1025.0 1187.5L1026.5 1187.7L1027.9 1188.1L1029.3 1188.7L1030.6 1189.5L1031.9 1190.2L1033.1 1191.0L1034.4 1191.8L1035.8 1192.4L1037.2 1192.9L1038.7 1193.2L1040.2 1193.1L1041.6 1192.7L1043.0 1192.2L1044.4 1191.7L1045.9 1191.3L1047.4 1191.4L1048.8 1191.7L1050.3 1192.1L1051.7 1192.6L1053.1 1193.1L1054.6 1193.4L1056.1 1193.4L1057.5 1193.1L1058.9 1192.4L1060.1 1191.6L1061.2 1190.6L1062.3 1189.6L1063.3 1188.5L1064.3 1187.3L1065.1 1186.0L1065.9 1184.8L1066.6 1183.4L1067.2 1182.1L1067.8 1180.7L1068.4 1179.3L1068.8 1177.9L1069.3 1176.4L1069.6 1175.0L1070.0 1173.5L1070.3 1172.1L1070.6 1170.6L1070.9 1169.1L1071.2 1167.7L1071.4 1166.2L1071.7 1164.7L1072.0 1163.2L1072.2 1161.8L1072.5 1160.3L1072.7 1158.8L1073.0 1157.3L1073.3 1155.8L1073.5 1154.4L1073.8 1152.9L1074.1 1151.4L1074.3 1149.9L1074.6 1148.5L1074.8 1147.0L1075.1 1145.5L1075.4 1144.0L1075.6 1142.6L1075.9 1141.1L1076.2 1139.6L1076.5 1138.1L1076.7 1136.7L1077.0 1135.2L1077.3 1133.7L1077.5 1132.2L1077.8 1130.8L1078.1 1129.3L1078.4 1127.8L1078.7 1126.3L1078.9 1124.9L1079.2 1123.4L1079.5 1121.9L1079.8 1120.5L1080.1 1119.0L1080.4 1117.5L1080.7 1116.0L1081.0 1114.6L1081.3 1113.1L1081.6 1111.6L1081.9 1110.2L1082.2 1108.7L1082.5 1107.2L1082.8 1105.8L1083.1 1104.3L1083.4 1102.8L1083.7 1101.4L1084.1 1099.9L1084.4 1098.4L1084.7 1097.0L1085.0 1095.5L1085.4 1094.0L1085.7 1092.6L1086.0 1091.1L1086.4 1089.7L1086.7 1088.2L1087.1 1086.7L1087.4 1085.3L1087.8 1083.8L1088.1 1082.4L1088.5 1080.9L1088.8 1079.4L1089.2 1078.0L1089.6 1076.5L1089.9 1075.1L1090.3 1073.6L1090.7 1072.2L1091.1 1070.7L1091.5 1069.3L1091.9 1067.8L1092.3 1066.4L1092.8 1065.0L1093.2 1063.5L1093.7 1062.1L1094.2 1060.7L1094.7 1059.3L1095.2 1057.9L1095.7 1056.5L1096.3 1055.1L1096.9 1053.7L1097.5 1052.4L1098.2 1051.0L1098.9 1049.7L1099.6 1048.4L1100.3 1047.1L1101.1 1045.8L1101.9 1044.5L1102.8 1043.3L1103.6 1042.1L1104.5 1040.8L1105.4 1039.6L1106.3 1038.4L1107.2 1037.2L1108.0 1036.0L1108.9 1034.7L1109.7 1033.5L1110.5 1032.2L1111.3 1030.9L1112.0 1029.6L1112.7 1028.3L1113.5 1027.0L1114.2 1025.7L1114.9 1024.4L1115.6 1023.0L1116.3 1021.7L1117.1 1020.4L1117.9 1019.2L1118.7 1017.9L1119.5 1016.7L1120.4 1015.4L1121.3 1014.3L1122.3 1013.1L1123.4 1012.0L1124.4 1011.0L1125.5 1009.9L1126.5 1008.8L1127.5 1007.7L1128.4 1006.5L1129.2 1005.2L1129.9 1003.9L1130.6 1002.6L1131.2 1001.2L1131.7 999.8L1132.2 998.4L1132.6 996.9L1133.0 995.5L1133.4 994.0L1133.7 992.6L1134.1 991.1L1134.4 989.6L1134.7 988.2L1135.0 986.7L1135.3 985.2L1135.6 983.8L1135.9 982.3L1136.2 980.8L1136.4 979.3L1136.7 977.9L1136.9 976.4L1137.2 974.9L1137.4 973.4L1137.6 971.9L1137.8 970.5L1138.0 969.0L1138.2 967.5L1138.4 966.0L1138.6 964.5L1138.8 963.0L1139.0 961.5L1139.2 960.0L1139.4 958.6L1139.6 957.1L1139.8 955.6L1139.9 954.1L1140.1 952.6L1140.3 951.1L1140.5 949.6L1140.7 948.1L1140.9 946.7L1141.1 945.2L1141.3 943.7L1141.5 942.2L1141.7 940.7L1141.9 939.2L1142.1 937.7L1142.3 936.3L1142.6 934.8L1142.8 933.3L1143.0 931.8L1143.2 930.3L1143.4 928.8L1143.6 927.4L1143.9 925.9L1144.1 924.4L1144.3 922.9L1144.5 921.4L1144.7 919.9L1145.0 918.5L1145.2 917.0L1145.4 915.5L1145.7 914.0L1145.9 912.5L1146.1 911.0L1146.4 909.6L1146.6 908.1L1146.8 906.6L1147.1 905.1L1147.3 903.6L1147.5 902.2L1147.8 900.7L1148.0 899.2L1148.2 897.7L1148.5 896.2L1148.7 894.8L1149.0 893.3L1149.2 891.8L1149.5 890.3L1149.7 888.8L1149.9 887.4L1150.2 885.9L1150.4 884.4L1150.7 882.9L1150.9 881.4L1151.2 880.0L1151.4 878.5L1151.7 877.0L1151.9 875.5L1152.2 874.0L1152.4 872.6L1152.7 871.1L1152.9 869.6L1153.2 868.1L1153.4 866.6L1153.7 865.2L1153.9 863.7L1154.2 862.2L1154.4 860.7L1154.7 859.3L1154.9 857.8L1155.2 856.3L1155.4 854.8L1155.7 853.3L1156.0 851.9L1156.2 850.4L1156.5 848.9L1156.8 847.4L1157.0 846.0L1157.3 844.5L1157.6 843.0L1157.9 841.5L1158.1 840.1L1158.4 838.6L1158.7 837.1L1159.0 835.7L1159.3 834.2L1159.6 832.7L1159.8 831.2L1160.1 829.8L1160.4 828.3L1160.7 826.8L1161.0 825.4L1161.3 823.9L1161.7 822.4L1162.0 821.0L1162.3 819.5L1162.6 818.0L1162.9 816.6L1163.3 815.1L1163.6 813.6L1163.9 812.2L1164.3 810.7L1164.6 809.2L1164.9 807.8L1165.3 806.3L1165.6 804.9L1166.0 803.4L1166.3 802.0L1166.7 800.5L1167.0 799.0L1167.4 797.6L1167.7 796.1L1168.1 794.7L1168.5 793.2L1168.8 791.8L1169.2 790.3L1169.6 788.9L1170.0 787.4L1170.3 786.0L1170.7 784.5L1171.1 783.1L1171.5 781.6L1171.9 780.2L1172.2 778.7L1172.6 777.3L1173.0 775.8L1173.4 774.4L1173.8 772.9L1174.2 771.5L1174.6 770.0L1175.0 768.6L1175.4 767.1L1175.8 765.7L1176.2 764.2L1176.7 762.8L1177.2 761.4L1177.7 760.0L1178.3 758.6L1178.9 757.2L1179.6 755.9L1180.3 754.6L1181.1 753.3L1182.0 752.1L1182.9 750.9L1183.9 749.8L1185.1 748.9L1186.4 748.3L1187.9 748.4L1189.3 748.9L1190.6 749.7L1191.8 750.5L1193.1 751.3L1194.4 752.0L1195.9 752.3L1197.3 751.9L1198.5 751.1L1199.5 749.9L1200.4 748.7L1201.1 747.4L1201.8 746.1L1202.3 744.7L1202.8 743.2L1203.2 741.8L1203.5 740.3L1203.8 738.9L1203.9 737.4L1204.1 735.9L1204.3 734.4L1204.4 732.9L1204.5 731.4L1204.7 729.9L1204.9 728.4L1205.1 726.9L1205.4 725.5L1205.6 724.0L1205.9 722.5L1206.2 721.0L1206.5 719.6L1206.9 718.1L1207.2 716.6L1207.6 715.2L1208.0 713.7L1208.3 712.3L1208.8 710.9L1209.2 709.4L1209.6 708.0L1210.0 706.5L1210.5 705.1L1210.9 703.7L1211.4 702.2L1211.8 700.8L1212.3 699.4L1212.8 698.0L1213.2 696.5L1213.7 695.1L1214.2 693.7L1214.6 692.3L1215.1 690.8L1215.5 689.4L1216.0 688.0L1216.5 686.6L1216.9 685.1L1217.4 683.7L1217.8 682.3L1218.2 680.8L1218.6 679.4L1219.1 677.9L1219.5 676.5L1219.9 675.1L1220.3 673.6L1220.7 672.2L1221.1 670.7L1221.5 669.3L1221.8 667.8L1222.2 666.4L1222.6 664.9L1222.9 663.5L1223.3 662.0L1223.7 660.5L1224.0 659.1L1224.4 657.6L1224.7 656.2L1225.1 654.7L1225.4 653.2L1225.7 651.8L1226.1 650.3L1226.4 648.9L1226.7 647.4L1227.0 645.9L1227.4 644.5L1227.7 643.0L1228.0 641.5L1228.3 640.1L1228.6 638.6L1229.0 637.1L1229.3 635.7L1229.6 634.2L1229.9 632.7L1230.2 631.3L1230.5 629.8L1230.8 628.3L1231.1 626.9L1231.5 625.4L1231.8 623.9L1232.1 622.5L1232.4 621.0L1232.7 619.5L1233.0 618.1L1233.3 616.6L1233.7 615.1L1234.0 613.7L1234.3 612.2L1234.6 610.7L1234.9 609.3L1235.3 607.8L1235.6 606.4L1235.9 604.9L1236.3 603.4L1236.6 602.0L1236.9 600.5L1237.3 599.0L1237.6 597.6L1238.0 596.1L1238.4 594.7L1238.7 593.2L1239.1 591.8L1239.4 590.3L1239.8 588.9L1240.2 587.4L1240.6 586.0L1241.0 584.5L1241.4 583.1L1241.8 581.6L1242.2 580.2L1242.6 578.7L1243.0 577.3L1243.4 575.9L1243.9 574.4L1244.5 573.0L1245.2 571.7L1246.0 570.5L1246.9 569.3L1248.0 568.3L1249.3 567.5L1250.8 567.2L1252.2 567.7L1253.4 568.6L1254.4 569.7L1255.2 570.9L1256.0 572.2L1256.8 573.5L1257.6 574.8L1258.3 576.1L1259.0 577.4L1259.7 578.7L1260.3 580.1L1261.0 581.4L1261.7 582.7L1262.5 584.1L1263.2 585.3L1264.0 586.6L1264.9 587.8L1265.8 589.0L1266.8 590.1L1267.9 591.2L1269.0 592.2L1270.1 593.2L1271.4 594.0L1272.7 594.8L1274.1 595.3L1275.6 595.5L1277.0 595.2L1278.4 594.5L1279.6 593.6L1280.7 592.6L1281.7 591.5L1282.7 590.4L1283.6 589.2L1284.5 588.0L1285.3 586.8L1286.1 585.5L1286.9 584.2L1287.7 582.9L1288.4 581.6L1289.1 580.3L1289.8 579.0L1290.6 577.7L1291.3 576.4L1292.1 575.1L1292.9 573.8L1293.7 572.6L1294.6 571.4L1295.5 570.2L1296.5 569.0L1297.5 567.9L1298.5 566.8L1299.6 565.8L1300.8 564.9L1302.1 564.1L1303.5 563.7L1305.0 563.7L1306.4 564.3L1307.5 565.3L1308.5 566.4L1309.3 567.7L1310.1 569.0L1310.8 570.3L1311.4 571.7L1311.9 573.1L1312.4 574.5L1312.8 575.9L1313.2 577.4L1313.5 578.8L1313.8 580.3L1314.1 581.8L1314.4 583.3L1314.7 584.7L1315.0 586.2L1315.3 587.7L1315.5 589.1L1315.8 590.6L1316.1 592.1L1316.4 593.6L1316.7 595.0L1317.0 596.5L1317.3 598.0L1317.6 599.4L1317.9 600.9L1318.2 602.4L1318.5 603.9L1318.8 605.3L1319.1 606.8L1319.4 608.3L1319.7 609.7L1320.0 611.2L1320.3 612.7L1320.6 614.1L1320.9 615.6L1321.2 617.1L1321.4 618.6L1321.7 620.0L1322.0 621.5L1322.3 623.0L1322.6 624.4L1322.9 625.9L1323.2 627.4L1323.5 628.9L1323.7 630.3L1324.0 631.8L1324.3 633.3L1324.5 634.8L1324.8 636.2L1325.1 637.7L1325.3 639.2L1325.6 640.7L1325.8 642.1L1326.1 643.6L1326.3 645.1L1326.6 646.6L1326.8 648.1L1327.0 649.5L1327.3 651.0L1327.5 652.5L1327.7 654.0L1328.0 655.5L1328.2 657.0L1328.4 658.4L1328.6 659.9L1328.8 661.4L1329.0 662.9L1329.3 664.4L1329.5 665.9L1329.7 667.3L1329.9 668.8L1330.1 670.3L1330.3 671.8L1330.5 673.3L1330.7 674.8L1330.9 676.3L1331.1 677.7L1331.3 679.2L1331.5 680.7L1331.7 682.2L1331.9 683.7L1332.1 685.2L1332.3 686.7L1332.5 688.1L1332.7 689.6L1333.0 691.1L1333.2 692.6L1333.4 694.1L1333.6 695.6L1333.8 697.1L1334.0 698.5L1334.2 700.0L1334.4 701.5L1334.6 703.0L1334.8 704.5L1335.1 706.0L1335.3 707.5L1335.5 708.9L1335.7 710.4L1335.9 711.9L1336.2 713.4L1336.4 714.9L1336.6 716.3L1336.9 717.8L1337.1 719.3L1337.3 720.8L1337.6 722.3L1337.8 723.7L1338.1 725.2L1338.3 726.7L1338.6 728.2L1338.8 729.7L1339.1 731.1L1339.4 732.6L1339.7 734.1L1339.9 735.6L1340.2 737.0L1340.5 738.5L1340.8 740.0L1341.1 741.4L1341.4 742.9L1341.7 744.4L1342.0 745.9L1342.3 747.3L1342.6 748.8L1343.0 750.2L1343.3 751.7L1343.6 753.2L1344.0 754.6L1344.3 756.1L1344.7 757.5L1345.0 759.0L1345.4 760.5L1345.8 761.9L1346.1 763.4L1346.5 764.8L1346.9 766.3L1347.3 767.7L1347.7 769.1L1348.1 770.6L1348.6 772.0L1349.0 773.5L1349.4 774.9L1349.9 776.3L1350.3 777.8L1350.8 779.2L1351.2 780.6L1351.7 782.0L1352.2 783.5L1352.7 784.9L1353.2 786.3L1353.7 787.7L1354.2 789.1L1354.6 790.5L1355.1 792.0L1355.6 793.4L1356.1 794.8L1356.6 796.2L1357.0 797.7L1357.4 799.1L1357.8 800.5L1358.2 802.0L1358.6 803.5L1358.9 804.9L1359.2 806.4L1359.6 807.8L1359.9 809.3L1360.2 810.8L1360.5 812.2L1360.9 813.7L1361.2 815.2L1361.6 816.6L1362.0 818.0L1362.5 819.5L1363.0 820.9L1363.6 822.3L1364.1 823.7L1364.7 825.0L1365.4 826.4L1366.0 827.7L1366.7 829.1L1367.4 830.4L1368.1 831.8L1368.7 833.1L1369.4 834.4L1370.1 835.8L1370.8 837.1L1371.4 838.5L1372.1 839.8L1372.7 841.2L1373.3 842.6L1373.9 843.9L1374.4 845.3L1375.0 846.7L1375.5 848.1L1376.0 849.5L1376.5 851.0L1377.0 852.4L1377.4 853.8L1377.9 855.2L1378.3 856.7L1378.7 858.1L1379.1 859.6L1379.5 861.0L1379.9 862.4L1380.3 863.9L1380.7 865.4L1381.0 866.8L1381.4 868.3L1381.7 869.7L1382.0 871.2L1382.4 872.7L1382.7 874.1L1383.0 875.6L1383.3 877.1L1383.6 878.5L1383.9 880.0L1384.1 881.5L1384.4 883.0L1384.7 884.4L1385.0 885.9L1385.3 887.4L1385.5 888.8L1385.8 890.3L1386.1 891.8L1386.4 893.3L1386.6 894.7L1386.9 896.2L1387.1 897.7L1387.4 899.2L1387.7 900.7L1387.9 902.1L1388.2 903.6L1388.4 905.1L1388.7 906.6L1388.9 908.0L1389.2 909.5L1389.4 911.0L1389.7 912.5L1389.9 914.0L1390.1 915.4L1390.4 916.9L1390.6 918.4L1390.9 919.9L1391.1 921.4L1391.3 922.8L1391.6 924.3L1391.8 925.8L1392.0 927.3L1392.3 928.8L1392.5 930.3L1392.7 931.7L1393.0 933.2L1393.2 934.7L1393.4 936.2L1393.7 937.7L1393.9 939.1L1394.1 940.6L1394.4 942.1L1394.6 943.6L1394.8 945.1L1395.0 946.6L1395.3 948.0L1395.5 949.5L1395.7 951.0L1396.0 952.5L1396.2 954.0L1396.4 955.5L1396.6 956.9L1396.9 958.4L1397.1 959.9L1397.3 961.4L1397.6 962.9L1397.8 964.3L1398.0 965.8L1398.3 967.3L1398.5 968.8L1398.7 970.3L1399.0 971.7L1399.2 973.2L1399.5 974.7L1399.7 976.2L1399.9 977.7L1400.2 979.1L1400.4 980.6L1400.7 982.1L1400.9 983.6L1401.2 985.1L1401.4 986.5L1401.7 988.0L1401.9 989.5L1402.2 991.0L1402.4 992.5L1402.7 993.9L1403.0 995.4L1403.2 996.9L1403.5 998.4L1403.8 999.8L1404.0 1001.3L1404.3 1002.8L1404.6 1004.3L1404.8 1005.7L1405.1 1007.2L1405.4 1008.7L1405.7 1010.2L1405.9 1011.6L1406.2 1013.1L1406.5 1014.6L1406.8 1016.1L1407.1 1017.5L1407.4 1019.0L1407.7 1020.5L1408.0 1021.9L1408.3 1023.4L1408.6 1024.9L1408.9 1026.3L1409.2 1027.8L1409.5 1029.3L1409.8 1030.8L1410.1 1032.2L1410.4 1033.7L1410.7 1035.2L1411.0 1036.6L1411.3 1038.1L1411.7 1039.6L1412.0 1041.0L1412.3 1042.5L1412.6 1043.9L1412.9 1045.4L1413.3 1046.9L1413.6 1048.3L1413.9 1049.8L1414.3 1051.3L1414.6 1052.7L1415.0 1054.2L1415.3 1055.6L1415.6 1057.1L1416.0 1058.6L1416.3 1060.0L1416.7 1061.5L1417.0 1062.9L1417.4 1064.4L1417.7 1065.9L1418.1 1067.3L1418.5 1068.8L1418.8 1070.2L1419.2 1071.7L1419.6 1073.1L1419.9 1074.6L1420.3 1076.0L1420.7 1077.5L1421.0 1078.9L1421.4 1080.4L1421.8 1081.8L1422.2 1083.3L1422.6 1084.7L1423.0 1086.2L1423.3 1087.6L1423.7 1089.1L1424.1 1090.5L1424.5 1092.0L1424.9 1093.4L1425.3 1094.9L1425.7 1096.3L1426.1 1097.8L1426.5 1099.2L1427.0 1100.6L1427.4 1102.1L1427.8 1103.5L1428.2 1105.0L1428.6 1106.4L1429.1 1107.8L1429.5 1109.3L1430.0 1110.7L1430.5 1112.1L1431.1 1113.5L1431.6 1114.9L1432.2 1116.3L1432.8 1117.6L1433.5 1119.0L1434.2 1120.3L1434.9 1121.6L1435.7 1122.9L1436.5 1124.1L1437.4 1125.3L1438.4 1126.5L1439.3 1127.7L1440.3 1128.8L1441.4 1129.9L1442.4 1130.9L1443.5 1132.0L1444.5 1133.1L1445.5 1134.2L1446.5 1135.4L1447.4 1136.5L1448.3 1137.7L1449.2 1139.0L1450.0 1140.2L1450.8 1141.5L1451.6 1142.8L1452.3 1144.1L1453.0 1145.4L1453.7 1146.7L1454.3 1148.1L1455.0 1149.4L1455.6 1150.8L1456.2 1152.2L1456.8 1153.6L1457.3 1155.0L1457.9 1156.4L1458.4 1157.8L1458.9 1159.2L1459.4 1160.6L1459.9 1162.0L1460.4 1163.4L1460.9 1164.8L1461.3 1166.3L1461.8 1167.7L1462.2 1169.1L1462.7 1170.6L1463.1 1172.0L1463.5 1173.4L1463.9 1174.9L1464.3 1176.3L1464.7 1177.8L1465.1 1179.2L1465.5 1180.7L1465.9 1182.1L1466.2 1183.6L1466.6 1185.0L1467.0 1186.5L1467.3 1187.9L1467.7 1189.4L1468.0 1190.9L1468.4 1192.3L1468.7 1193.8L1469.0 1195.2L1469.4 1196.7L1469.7 1198.2L1470.0 1199.6L1470.3 1201.1L1470.7 1202.6L1471.0 1204.0L1471.3 1205.5L1471.6 1207.0L1471.9 1208.4L1472.3 1209.9L1472.6 1211.3L1472.9 1212.8L1473.3 1214.3L1473.6 1215.7L1473.9 1217.2L1474.3 1218.7L1474.6 1220.1L1474.9 1221.6L1475.3 1223.0L1475.6 1224.5L1476.0 1226.0L1476.4 1227.4L1476.7 1228.9L1477.1 1230.3L1477.5 1231.8L1477.9 1233.2L1478.3 1234.7L1478.7 1236.1L1479.1 1237.5L1479.5 1239.0L1479.9 1240.4L1480.4 1241.9L1480.8 1243.3L1481.3 1244.7L1481.7 1246.1L1482.2 1247.6L1482.7 1249.0L1483.2 1250.4L1483.7 1251.8L1484.3 1253.2L1484.8 1254.6L1485.4 1256.0L1486.0 1257.4L1486.6 1258.7L1487.3 1260.1L1487.9 1261.4L1488.7 1262.7L1489.4 1264.0L1490.2 1265.3L1491.0 1266.6L1491.8 1267.8L1492.7 1269.0L1493.6 1270.2L1494.6 1271.4L1495.6 1272.5L1496.6 1273.6L1497.7 1274.6L1498.9 1275.5L1500.2 1276.3L1501.6 1276.7L1503.1 1276.7L1504.6 1276.4L1505.9 1275.8L1507.2 1275.0L1508.4 1274.1L1509.6 1273.2L1510.7 1272.1L1511.7 1271.0L1512.7 1269.9L1513.6 1268.7L1514.5 1267.6L1515.5 1266.4L1516.4 1265.2L1517.3 1264.0L1518.3 1262.9L1519.4 1261.8L1520.5 1260.8L1521.7 1259.9L1523.0 1259.1L1524.3 1258.5L1525.7 1258.0L1527.2 1257.7L1528.7 1257.5L1530.2 1257.5L1531.7 1257.7L1533.1 1258.1L1534.5 1258.7L1535.8 1259.4L1537.0 1260.3L1538.1 1261.3L1539.2 1262.3L1540.3 1263.4L1541.3 1264.5L1542.3 1265.6L1543.3 1266.7L1544.3 1267.8L1545.3 1268.9L1546.4 1270.0L1547.5 1271.0L1548.8 1271.8L1550.2 1272.1L1551.7 1271.9L1553.1 1271.3L1554.3 1270.6L1555.5 1269.6L1556.7 1268.7L1557.8 1267.6L1558.8 1266.6L1559.9 1265.5L1560.9 1264.4L1561.9 1263.3L1562.8 1262.1L1563.8 1261.0L1564.6 1259.8L1565.5 1258.5L1566.4 1257.3L1567.2 1256.0L1567.9 1254.7L1568.7 1253.4L1569.4 1252.1L1570.1 1250.8L1570.8 1249.5L1571.5 1248.1L1572.2 1246.8L1572.8 1245.4L1573.4 1244.1L1574.0 1242.7L1574.6 1241.3L1575.2 1239.9L1575.8 1238.6L1576.3 1237.2L1576.9 1235.8L1577.4 1234.4L1577.9 1232.9L1578.4 1231.5L1578.9 1230.1L1579.4 1228.7L1579.9 1227.3L1580.3 1225.8L1580.8 1224.4L1581.2 1223.0L1581.6 1221.5L1582.0 1220.1L1582.4 1218.7L1582.8 1217.2L1583.2 1215.8L1583.6 1214.3L1584.0 1212.9L1584.3 1211.4L1584.7 1209.9L1585.0 1208.5L1585.4 1207.0L1585.7 1205.6L1586.0 1204.1L1586.4 1202.6L1586.7 1201.2L1587.0 1199.7L1587.3 1198.2L1587.6 1196.8L1587.9 1195.3L1588.1 1193.8L1588.4 1192.3L1588.7 1190.9L1589.0 1189.4L1589.3 1187.9L1589.5 1186.4L1589.8 1185.0L1590.0 1183.5L1590.3 1182.0L1590.6 1180.5L1590.8 1179.1L1591.1 1177.6L1591.4 1176.1L1591.6 1174.6L1591.9 1173.2L1592.2 1171.7L1592.5 1170.2L1592.7 1168.7L1593.0 1167.3L1593.3 1165.8L1593.6 1164.3L1593.9 1162.9L1594.3 1161.4L1594.6 1159.9L1594.9 1158.5L1595.3 1157.0L1595.6 1155.6L1596.0 1154.1L1596.4 1152.6L1596.8 1151.2L1597.2 1149.8L1597.6 1148.3L1598.0 1146.9L1598.5 1145.4L1598.9 1144.0L1599.4 1142.6L1599.9 1141.2L1600.4 1139.8L1600.9 1138.4L1601.5 1137.0L1602.0 1135.6L1602.6 1134.2L1603.1 1132.8L1603.7 1131.4L1604.3 1130.0L1604.9 1128.6L1605.5 1127.3L1606.1 1125.9L1606.7 1124.5L1607.4 1123.2L1608.0 1121.8L1608.6 1120.5L1609.3 1119.1L1609.9 1117.8L1610.6 1116.4L1611.2 1115.1L1611.9 1113.7L1612.5 1112.4L1613.2 1111.0L1613.9 1109.7L1614.5 1108.3L1615.2 1107.0L1615.9 1105.6L1616.5 1104.3L1617.2 1102.9L1617.8 1101.6L1618.5 1100.2L1619.1 1098.9L1619.8 1097.5L1620.4 1096.2L1621.0 1094.8L1621.7 1093.5L1622.3 1092.1L1622.9 1090.7L1623.5 1089.3L1624.1 1088.0L1624.7 1086.6L1625.3 1085.2L1625.8 1083.8L1626.4 1082.4L1626.9 1081.0L1627.5 1079.6L1628.0 1078.2L1628.5 1076.8L1629.0 1075.4L1629.5 1074.0L1629.9 1072.5L1630.4 1071.1L1630.9 1069.7L1631.3 1068.3L1631.7 1066.8L1632.1 1065.4L1632.5 1063.9L1632.9 1062.5L1633.3 1061.0L1633.7 1059.6L1634.1 1058.1L1634.5 1056.7L1634.8 1055.2L1635.2 1053.8L1635.5 1052.3L1635.8 1050.8L1636.2 1049.4L1636.5 1047.9L1636.8 1046.5L1637.1 1045.0L1637.4 1043.5L1637.7 1042.1L1638.1 1040.6L1638.3 1039.1L1638.6 1037.6L1638.9 1036.2L1639.2 1034.7L1639.5 1033.2L1639.8 1031.8L1640.1 1030.3L1640.4 1028.8L1640.7 1027.3L1640.9 1025.9L1641.2 1024.4L1641.5 1022.9L1641.8 1021.4L1642.1 1020.0L1642.4 1018.5L1642.6 1017.0L1642.9 1015.6L1643.2 1014.1L1643.5 1012.6L1643.8 1011.1L1644.1 1009.7L1644.4 1008.2L1644.6 1006.7L1644.9 1005.3L1645.2 1003.8L1645.5 1002.3L1645.8 1000.8L1646.0 999.4L1646.3 997.9L1646.6 996.4L1646.9 994.9L1647.1 993.5L1647.4 992.0L1647.7 990.5L1647.9 989.0L1648.2 987.5L1648.4 986.1L1648.7 984.6L1648.9 983.1L1649.2 981.6L1649.4 980.2L1649.6 978.7L1649.9 977.2L1650.1 975.7L1650.4 974.2L1650.6 972.7L1650.8 971.3L1651.0 969.8L1651.3 968.3L1651.5 966.8L1651.7 965.3L1651.9 963.9L1652.2 962.4L1652.4 960.9L1652.6 959.4L1652.8 957.9L1653.0 956.4L1653.2 954.9L1653.4 953.5L1653.7 952.0L1653.9 950.5L1654.1 949.0L1654.3 947.5L1654.5 946.0L1654.7 944.6L1654.9 943.1L1655.1 941.6L1655.3 940.1L1655.5 938.6L1655.7 937.1L1655.9 935.6L1656.1 934.2L1656.3 932.7L1656.5 931.2L1656.8 929.7L1657.0 928.2L1657.2 926.7L1657.4 925.2L1657.6 923.8L1657.8 922.3L1658.0 920.8L1658.2 919.3L1658.4 917.8L1658.6 916.3L1658.8 914.8L1659.0 913.3L1659.2 911.9L1659.4 910.4L1659.6 908.9L1659.8 907.4L1660.0 905.9L1660.2 904.4L1660.3 902.9L1660.5 901.5L1660.7 900.0L1660.9 898.5L1661.1 897.0L1661.3 895.5L1661.5 894.0L1661.7 892.5L1661.9 891.0L1662.1 889.6L1662.3 888.1L1662.4 886.6L1662.6 885.1L1662.8 883.6L1663.0 882.1L1663.2 880.6L1663.4 879.1L1663.6 877.6L1663.7 876.2L1663.9 874.7L1664.1 873.2L1664.3 871.7L1664.4 870.2L1664.6 868.7L1664.8 867.2L1665.0 865.7L1665.1 864.2L1665.3 862.8L1665.5 861.3L1665.6 859.8L1665.8 858.3L1666.0 856.8L1666.1 855.3L1666.3 853.8L1666.5 852.3L1666.6 850.8L1666.8 849.3L1667.0 847.8L1667.1 846.4L1667.3 844.9L1667.5 843.4L1667.6 841.9L1667.8 840.4L1668.0 838.9L1668.2 837.4L1668.4 835.9L1668.6 834.4L1668.8 833.0L1669.0 831.5L1669.2 830.0L1669.4 828.5L1669.7 827.0L1669.9 825.6L1670.2 824.1L1670.4 822.6L1670.7 821.1L1671.0 819.7L1671.3 818.2L1671.7 816.7L1672.0 815.3L1672.4 813.8L1672.7 812.4L1673.1 810.9L1673.5 809.5L1673.9 808.0L1674.4 806.6L1674.8 805.2L1675.3 803.7L1675.8 802.3L1676.3 800.9L1676.9 799.5L1677.4 798.1L1678.0 796.7L1678.6 795.4L1679.2 794.0L1679.8 792.6L1680.5 791.3L1681.2 789.9L1681.8 788.6L1682.6 787.3L1683.3 786.0L1684.0 784.7L1684.8 783.4L1685.6 782.1L1686.4 780.9L1687.2 779.6L1688.1 778.4L1689.0 777.2L1689.8 775.9L1690.8 774.7L1691.7 773.6L1692.6 772.4L1693.6 771.3L1694.7 770.3L1696.0 769.5L1697.4 769.0L1698.9 769.0L1700.4 769.4L1701.8 769.9L1703.1 770.5L1704.5 771.2L1705.8 771.9L1707.1 772.6L1708.5 773.2L1709.9 773.8L1711.3 774.2L1712.8 774.3L1714.2 773.9L1715.4 773.0L1716.4 771.9L1717.2 770.6L1718.0 769.4L1718.7 768.0L1719.3 766.7L1720.0 765.3L1720.6 763.9L1721.1 762.6L1721.6 761.1L1722.1 759.7L1722.6 758.3L1723.0 756.9L1723.4 755.4L1723.8 754.0L1724.1 752.5L1724.4 751.0L1724.7 749.6L1725.0 748.1L1725.2 746.6L1725.5 745.1L1725.7 743.6L1725.9 742.2L1726.1 740.7L1726.3 739.2L1726.5 737.7L1726.6 736.2L1726.8 734.7L1727.0 733.2L1727.1 731.7L1727.3 730.2L1727.4 728.7L1727.6 727.3L1727.7 725.8L1727.9 724.3L1728.0 722.8L1728.2 721.3L1728.3 719.8L1728.5 718.3L1728.6 716.8L1728.8 715.3L1729.0 713.8L1729.2 712.3L1729.3 710.9L1729.5 709.4L1729.7 707.9L1729.9 706.4L1730.1 704.9L1730.4 703.4L1730.6 701.9L1730.8 700.5L1731.1 699.0L1731.3 697.5L1731.6 696.0L1731.9 694.6L1732.2 693.1L1732.5 691.6L1732.9 690.2L1733.2 688.7L1733.6 687.3L1733.9 685.8L1734.3 684.4L1734.7 682.9L1735.2 681.5L1735.6 680.0L1736.1 678.6L1736.5 677.2L1737.0 675.8L1737.5 674.4L1738.1 673.0L1738.6 671.6L1739.3 670.2L1740.1 668.9L1741.1 667.8L1742.4 667.3L1743.9 667.5L1745.3 668.1L1746.5 669.0L1747.7 669.9L1748.8 670.9L1749.9 671.9L1750.9 673.0L1752.0 674.1L1753.0 675.2L1753.9 676.3L1754.8 677.5L1755.7 678.8L1756.4 680.1L1757.1 681.4L1757.7 682.8L1758.3 684.2L1758.8 685.6L1759.3 687.0L1759.7 688.4L1760.2 689.9L1760.6 691.3L1761.0 692.8L1761.5 694.2L1761.9 695.6L1762.3 697.1L1762.7 698.5L1763.2 699.9L1763.6 701.4L1764.1 702.8L1764.5 704.2L1765.0 705.7L1765.4 707.1L1765.8 708.5L1766.3 710.0L1766.7 711.4L1767.2 712.8L1767.6 714.3L1768.1 715.7L1768.5 717.1L1768.9 718.6L1769.4 720.0L1769.8 721.4L1770.2 722.9L1770.6 724.3L1771.0 725.8L1771.4 727.2L1771.8 728.7L1772.2 730.1L1772.7 731.5L1773.1 733.0L1773.7 734.4L1774.3 735.7L1774.9 737.1L1775.7 738.4L1776.5 739.6L1777.5 740.8L1778.5 741.9L1779.7 742.8L1781.1 743.1L1782.3 742.3L1783.0 741.0L1783.6 739.6L1784.0 738.2L1784.4 736.7L1784.8 735.3L1785.2 733.8L1785.6 732.4L1785.9 730.9L1786.3 729.5L1786.6 728.0L1787.0 726.5L1787.3 725.1L1787.6 723.6L1787.9 722.1L1788.2 720.7L1788.4 719.2L1788.7 717.7L1788.9 716.2L1789.2 714.7L1789.4 713.3L1789.6 711.8L1789.8 710.3L1790.0 708.8L1790.2 707.3L1790.4 705.8L1790.6 704.3L1790.8 702.9L1790.9 701.4L1791.1 699.9L1791.3 698.4L1791.4 696.9L1791.5 695.4L1791.7 693.9L1791.8 692.4L1791.9 690.9L1792.1 689.4L1792.2 687.9L1792.3 686.4L1792.5 684.9L1792.6 683.4L1792.7 682.0L1792.8 680.5L1792.9 679.0L1793.1 677.5L1793.2 676.0L1793.3 674.5L1793.4 673.0L1793.6 671.5L1793.7 670.0L1793.8 668.5L1793.9 667.0L1794.1 665.5L1794.2 664.0L1794.3 662.5L1794.5 661.0L1794.6 659.5L1794.7 658.0L1794.8 656.5L1795.0 655.1L1795.1 653.6L1795.2 652.1L1795.4 650.6L1795.5 649.1L1795.6 647.6L1795.8 646.1L1795.9 644.6L1796.1 643.1L1796.2 641.6L1796.4 640.1L1796.5 638.6L1796.7 637.1L1796.8 635.6L1797.0 634.2L1797.1 632.7L1797.3 631.2L1797.4 629.7L1797.6 628.2L1797.7 626.7L1797.9 625.2L1798.1 623.7L1798.2 622.2L1798.4 620.7L1798.6 619.2L1798.8 617.8L1798.9 616.3L1799.1 614.8L1799.3 613.3L1799.5 611.8L1799.7 610.3L1799.9 608.8L1800.1 607.3L1800.3 605.9L1800.5 604.4L1800.7 602.9L1800.9 601.4L1801.1 599.9L1801.3 598.4L1801.5 596.9L1801.7 595.4L1801.9 594.0L1802.1 592.5L1802.3 591.0L1802.5 589.5L1802.7 588.0L1802.8 586.5L1803.0 585.0L1803.2 583.5L1803.4 582.1L1803.6 580.6L1803.7 579.1L1803.9 577.6L1804.0 576.1L1804.2 574.6L1804.4 573.1L1804.6 571.6L1804.9 570.2L1805.3 568.7L1805.7 567.3L1806.2 565.9L1806.8 564.5L1807.5 563.2L1808.3 561.9L1809.3 560.7L1810.3 559.6L1811.4 558.7L1812.7 557.9L1814.2 557.6L1815.6 558.0L1816.7 558.9L1817.7 560.1L1818.5 561.3L1819.2 562.7L1819.9 564.0L1820.5 565.4L1821.0 566.8L1821.5 568.2L1821.9 569.6L1822.3 571.1L1822.6 572.6L1822.9 574.0L1823.2 575.5L1823.4 577.0L1823.7 578.5L1823.9 579.9L1824.2 581.4L1824.4 582.9L1824.7 584.4L1824.9 585.9L1825.2 587.3L1825.5 588.8L1825.8 590.3L1826.1 591.7L1826.4 593.2L1826.7 594.7L1827.0 596.2L1827.3 597.6L1827.6 599.1L1827.9 600.6L1828.2 602.0L1828.5 603.5L1828.9 605.0L1829.2 606.4L1829.5 607.9L1829.8 609.3L1830.1 610.8L1830.5 612.3L1830.8 613.7L1831.1 615.2L1831.4 616.7L1831.7 618.1L1832.1 619.6L1832.4 621.1L1832.7 622.5L1833.0 624.0L1833.3 625.5L1833.6 626.9L1833.8 628.4L1834.1 629.9L1834.4 631.4L1834.7 632.8L1834.9 634.3L1835.2 635.8L1835.5 637.3L1835.7 638.8L1836.0 640.2L1836.3 641.7L1836.6 643.2L1836.9 644.6L1837.2 646.1L1837.5 647.6L1837.9 649.0L1838.3 650.5L1838.8 651.9L1839.2 653.3L1839.7 654.7L1840.3 656.1L1840.9 657.5L1841.5 658.9L1842.2 660.2L1842.9 661.5L1843.7 662.8L1844.5 664.1L1845.3 665.3L1846.2 666.5L1847.2 667.6L1848.3 668.6L1849.7 669.2L1851.1 668.9L1852.3 668.0L1853.3 666.8L1854.1 665.6L1854.9 664.3L1855.6 663.0L1856.3 661.7L1857.0 660.3L1857.7 659.0L1858.3 657.6L1858.9 656.2L1859.5 654.9L1860.0 653.5L1860.5 652.0L1861.0 650.6L1861.4 649.2L1861.9 647.8L1862.3 646.3L1862.7 644.9L1863.0 643.4L1863.4 642.0L1863.8 640.5L1864.1 639.0L1864.5 637.6L1864.8 636.1L1865.2 634.7L1865.5 633.2L1865.9 631.8L1866.2 630.3L1866.6 628.9L1867.0 627.4L1867.4 626.0L1867.9 624.5L1868.3 623.1L1868.8 621.7L1869.3 620.3L1869.8 618.9L1870.4 617.5L1871.1 616.1L1872.0 615.0L1873.3 614.3L1874.7 614.7L1876.0 615.5L1877.1 616.6L1878.0 617.7L1878.9 618.9L1879.7 620.2L1880.4 621.5L1881.0 622.8L1881.6 624.3L1882.0 625.7L1882.4 627.1L1882.7 628.6L1882.9 630.1L1883.2 631.6L1883.4 633.0L1883.7 634.5L1883.9 636.0L1884.2 637.5L1884.4 639.0L1884.6 640.4L1884.9 641.9L1885.1 643.4L1885.4 644.9L1885.6 646.4L1885.9 647.8L1886.1 649.3L1886.4 650.8L1886.6 652.3L1886.9 653.8L1887.1 655.2L1887.4 656.7L1887.6 658.2L1887.9 659.7L1888.1 661.2L1888.4 662.6L1888.6 664.1L1888.9 665.6L1889.1 667.1L1889.4 668.5L1889.6 670.0L1889.9 671.5L1890.2 673.0L1890.4 674.5L1890.7 675.9L1890.9 677.4L1891.2 678.9L1891.4 680.4L1891.7 681.8L1891.9 683.3L1892.2 684.8L1892.4 686.3L1892.7 687.8L1892.9 689.2L1893.2 690.7L1893.4 692.2L1893.7 693.7L1893.9 695.2L1894.2 696.6L1894.4 698.1L1894.7 699.6L1894.9 701.1L1895.2 702.6L1895.4 704.0L1895.6 705.5L1895.9 707.0L1896.1 708.5L1896.4 710.0L1896.6 711.4L1896.8 712.9L1897.1 714.4L1897.3 715.9L1897.5 717.4L1897.8 718.8L1898.0 720.3L1898.2 721.8L1898.5 723.3L1898.7 724.8L1898.9 726.3L1899.1 727.7L1899.3 729.2L1899.6 730.7L1899.8 732.2L1900.0 733.7L1900.2 735.2L1900.4 736.6L1900.6 738.1L1900.9 739.6L1901.1 741.1L1901.3 742.6L1901.5 744.1L1901.7 745.6L1901.9 747.0L1902.1 748.5L1902.3 750.0L1902.5 751.5L1902.7 753.0L1902.9 754.5L1903.1 756.0L1903.3 757.4L1903.5 758.9L1903.7 760.4L1903.9 761.9L1904.1 763.4L1904.2 764.9L1904.4 766.4L1904.6 767.9L1904.8 769.3L1905.0 770.8L1905.2 772.3L1905.4 773.8L1905.6 775.3L1905.8 776.8L1906.0 778.3L1906.1 779.8L1906.3 781.2L1906.5 782.7L1906.7 784.2L1906.9 785.7L1907.1 787.2L1907.3 788.7L1907.5 790.2L1907.7 791.7L1907.9 793.1L1908.0 794.6L1908.2 796.1L1908.4 797.6L1908.6 799.1L1908.8 800.6L1909.0 802.1L1909.2 803.6L1909.4 805.0L1909.6 806.5L1909.8 808.0L1910.0 809.5L1910.2 811.0L1910.4 812.5L1910.6 814.0L1910.8 815.4L1911.0 816.9L1911.2 818.4L1911.4 819.9L1911.6 821.4L1911.8 822.9L1912.0 824.4L1912.2 825.8L1912.5 827.3L1912.7 828.8L1912.9 830.3L1913.1 831.8L1913.3 833.3L1913.5 834.7L1913.8 836.2L1914.0 837.7L1914.2 839.2L1914.5 840.7L1914.7 842.2L1914.9 843.6L1915.2 845.1L1915.4 846.6L1915.6 848.1L1915.9 849.6L1916.1 851.0L1916.4 852.5L1916.6 854.0L1916.9 855.5L1917.1 857.0L1917.4 858.4L1917.6 859.9L1917.9 861.4L1918.2 862.9L1918.4 864.3L1918.7 865.8L1919.0 867.3L1919.3 868.8L1919.6 870.2L1919.8 871.7L1920.1 873.2L1920.4 874.7L1920.7 876.1L1921.0 877.6L1921.3 879.1L1921.6 880.5L1921.9 882.0L1922.3 883.5L1922.6 884.9L1923.0 886.4L1923.4 887.8L1923.8 889.2L1924.3 890.7L1924.8 892.1L1925.4 893.5L1926.0 894.8L1926.7 896.2L1927.4 897.5L1928.2 898.8L1929.0 900.0L1929.8 901.3L1930.7 902.5L1931.5 903.8L1932.3 905.0L1933.1 906.3L1933.9 907.6L1934.7 908.8L1935.4 910.2L1936.1 911.5L1936.8 912.8L1937.5 914.1L1938.1 915.5L1938.8 916.9L1939.4 918.2L1939.9 919.6L1940.5 921.0L1941.1 922.4L1941.6 923.8L1942.1 925.2L1942.6 926.6L1943.1 928.0L1943.6 929.5L1944.1 930.9L1944.6 932.3L1945.0 933.7L1945.5 935.2L1945.9 936.6L1946.4 938.0L1946.8 939.5L1947.2 940.9L1947.6 942.3L1948.0 943.8L1948.4 945.2L1948.8 946.7L1949.2 948.1L1949.6 949.6L1950.0 951.0L1950.4 952.5L1950.8 953.9L1951.1 955.4L1951.5 956.8L1951.8 958.3L1952.2 959.7L1952.5 961.2L1952.9 962.7L1953.2 964.1L1953.5 965.6L1953.9 967.1L1954.2 968.5L1954.5 970.0L1954.8 971.5L1955.1 972.9L1955.4 974.4L1955.7 975.9L1956.0 977.3L1956.3 978.8L1956.6 980.3L1956.9 981.7L1957.2 983.2L1957.5 984.7L1957.8 986.2L1958.0 987.6L1958.3 989.1L1958.6 990.6L1958.9 992.1L1959.1 993.5L1959.4 995.0L1959.7 996.5L1960.0 998.0L1960.2 999.4L1960.5 1000.9L1960.7 1002.4L1961.0 1003.9L1961.3 1005.3L1961.5 1006.8L1961.8 1008.3L1962.1 1009.8L1962.3 1011.2L1962.6 1012.7L1962.8 1014.2L1963.1 1015.7L1963.4 1017.1L1963.6 1018.6L1963.9 1020.1L1964.2 1021.6L1964.4 1023.1L1964.7 1024.5L1965.0 1026.0L1965.2 1027.5L1965.5 1029.0L1965.8 1030.4L1966.0 1031.9L1966.3 1033.4L1966.6 1034.9L1966.9 1036.3L1967.2 1037.8L1967.4 1039.3L1967.7 1040.7L1968.0 1042.2L1968.3 1043.7L1968.6 1045.2L1968.9 1046.6L1969.2 1048.1L1969.5 1049.6L1969.8 1051.0L1970.1 1052.5L1970.4 1054.0L1970.6 1055.5L1970.9 1056.9L1971.2 1058.4L1971.5 1059.9L1971.8 1061.3L1972.1 1062.8L1972.3 1064.3L1972.6 1065.8L1972.9 1067.2L1973.2 1068.7L1973.4 1070.2L1973.7 1071.7L1973.9 1073.1L1974.2 1074.6L1974.4 1076.1L1974.7 1077.6L1974.9 1079.1L1975.1 1080.6L1975.3 1082.0L1975.5 1083.5L1975.7 1085.0L1975.9 1086.5L1976.1 1088.0L1976.3 1089.5L1976.5 1091.0L1976.7 1092.4L1976.8 1093.9L1977.0 1095.4L1977.2 1096.9L1977.3 1098.4L1977.5 1099.9L1977.7 1101.4L1977.8 1102.9L1978.0 1104.4L1978.1 1105.9L1978.3 1107.4L1978.4 1108.8L1978.6 1110.3L1978.8 1111.8L1978.9 1113.3L1979.1 1114.8L1979.3 1116.3L1979.5 1117.8L1979.6 1119.3L1979.8 1120.8L1980.0 1122.3L1980.2 1123.7L1980.4 1125.2L1980.6 1126.7L1980.9 1128.2L1981.1 1129.7L1981.3 1131.2L1981.6 1132.6L1981.8 1134.1L1982.1 1135.6L1982.4 1137.1L1982.7 1138.5L1983.0 1140.0"/>
<path stroke="#ff0000" d="M304.1 934.8L304.4 936.6L304.7 938.5L305.0 940.4L305.2 942.2L305.5 944.1L305.8 946.0M308.7 964.9L309.0 966.8L309.3 968.7L309.6 970.5L309.9 972.4L310.2 974.3L310.5 976.1M313.9 997.5L314.2 999.4L314.6 1001.2L314.9 1003.1L315.2 1005.0L315.5 1006.8L315.8 1008.7M319.0 1027.6L319.3 1029.5L319.6 1031.3L320.0 1033.2L320.3 1035.0L320.6 1036.9L320.9 1038.7M324.9 1060.6L325.3 1062.5L325.7 1064.3L326.0 1066.1L326.4 1068.0L326.8 1069.8L327.2 1071.6M331.8 1090.9L332.3 1092.7L332.8 1094.5L333.2 1096.3L333.8 1098.0L334.3 1099.8L334.8 1101.6M341.8 1121.0L342.5 1122.6L343.2 1124.2L344.0 1125.8L344.8 1127.4L345.6 1129.0L346.4 1130.6M356.8 1148.2L357.8 1149.7L358.7 1151.1L359.6 1152.6L360.6 1154.1L361.5 1155.5L362.4 1157.0M372.9 1175.1L373.7 1176.7L374.5 1178.3L375.3 1179.9L376.0 1181.6L376.7 1183.2L377.4 1184.9M384.6 1206.3L385.1 1208.0L385.7 1209.8L386.2 1211.6L386.7 1213.3L387.2 1215.1L387.7 1216.9M394.6 1237.3L395.2 1239.0L395.9 1240.6L396.6 1242.3L397.4 1243.9L398.1 1245.6L398.9 1247.2M405.8 1258.8L407.0 1260.4L408.3 1261.9L409.9 1263.1L411.8 1263.7L413.8 1263.8M433.9 1254.7L435.6 1253.8L437.4 1252.9L439.2 1252.2L441.0 1251.5L442.9 1251.0M456.6 1251.9L458.4 1252.3L460.3 1252.8L462.2 1253.2L464.1 1253.6L466.0 1253.9M479.5 1245.7L480.2 1244.0L480.8 1242.3L481.4 1240.6L482.1 1238.9L482.7 1237.2L483.4 1235.5M491.2 1216.4L491.9 1214.7L492.6 1213.1L493.3 1211.4L494.0 1209.7L494.7 1208.1L495.4 1206.4M502.3 1188.0L502.8 1186.3L503.4 1184.6L504.0 1182.8L504.5 1181.1L505.0 1179.3L505.5 1177.5M511.1 1156.3L511.6 1154.5L512.1 1152.8L512.6 1151.0L513.2 1149.3L513.8 1147.5L514.3 1145.8M521.2 1127.4L521.9 1125.7L522.6 1124.1L523.3 1122.4L524.0 1120.8L524.7 1119.1L525.4 1117.4M533.7 1097.4L534.4 1095.7L535.0 1094.0L535.7 1092.4L536.3 1090.7L536.9 1089.0L537.5 1087.2M544.3 1066.3L544.8 1064.5L545.3 1062.7L545.8 1060.9L546.3 1059.2L546.7 1057.4L547.2 1055.6M552.5 1033.9L552.9 1032.0L553.3 1030.2L553.7 1028.4L554.1 1026.6L554.5 1024.7L554.8 1022.9M558.8 1003.5L559.1 1001.7L559.5 999.8L559.8 998.0L560.2 996.2L560.5 994.3L560.9 992.5M565.0 970.6L565.4 968.8L565.7 966.9L566.0 965.1L566.4 963.2L566.7 961.4L567.0 959.5M570.4 938.6L570.7 936.7L570.9 934.9L571.2 933.0L571.4 931.1L571.7 929.2L571.9 927.4M574.4 906.9L574.6 905.0L574.8 903.1L575.0 901.2L575.3 899.3L575.5 897.4L575.7 895.5M578.0 875.1L578.3 873.2L578.5 871.3L578.7 869.4L579.0 867.6L579.2 865.7L579.5 863.8M582.8 842.4L583.1 840.5L583.4 838.7L583.8 836.8L584.1 835.0L584.5 833.2L584.9 831.3M589.5 812.0L590.0 810.2L590.5 808.5L591.0 806.7L591.6 804.9L592.1 803.2L592.7 801.4M599.1 785.9L600.4 784.3L601.8 783.0L603.5 781.9L605.4 781.2L607.3 781.2M623.7 775.3L625.7 775.0L627.6 774.8L629.5 774.3L631.2 773.3L632.7 772.0M638.1 749.3L638.3 747.4L638.5 745.5L638.7 743.6L639.0 741.7L639.3 739.9L639.6 738.0M643.3 719.1L643.7 717.3L644.0 715.5L644.4 713.6L644.7 711.8L645.1 709.9L645.4 708.1M651.8 687.5L653.2 686.1L654.7 684.8L656.4 683.9L658.3 683.2L660.2 683.2M667.0 704.3L667.6 706.0L668.2 707.7L668.9 709.4L669.5 711.1L670.2 712.8L670.9 714.5M677.3 733.4L677.8 735.2L678.2 737.0L678.7 738.8L679.1 740.6L679.6 742.4L680.0 744.2M691.8 765.3L693.4 764.7L694.5 763.3L695.2 761.7L695.7 760.0L696.2 758.3L696.6 756.6M701.4 732.8L701.7 730.9L702.0 729.0L702.3 727.2L702.6 725.3L702.9 723.4L703.1 721.6M705.8 699.1L706.0 697.2L706.2 695.3L706.4 693.4L706.6 691.5L706.8 689.6L707.0 687.7M709.1 668.8L709.3 666.9L709.5 665.0L709.7 663.1L709.9 661.2L710.1 659.3L710.3 657.4M712.5 637.5L712.7 635.6L713.0 633.7L713.2 631.8L713.4 629.9L713.6 628.0L713.8 626.1M716.6 604.6L716.9 602.8L717.3 600.9L717.6 599.1L718.0 597.3L718.4 595.5L718.9 593.7M728.1 580.9L729.5 582.0L730.5 583.4L731.4 584.9L732.1 586.5L732.8 588.2L733.4 589.8M738.6 610.2L739.0 612.0L739.5 613.8L739.9 615.6L740.5 617.3L741.0 619.1L741.5 620.9M746.9 642.4L747.1 644.3L747.3 646.3L747.4 648.2L747.4 650.1L747.4 652.0L747.4 654.0M751.8 670.6L753.2 671.9L754.9 673.0L756.8 673.5L758.7 673.0L760.2 671.8M770.9 648.2L771.3 646.4L771.8 644.6L772.2 642.8L772.6 641.0L773.0 639.2L773.4 637.3M777.3 618.4L777.8 616.6L778.3 614.8L778.8 613.1L779.4 611.3L780.0 609.6L780.6 607.9M787.8 595.5L789.5 595.8L790.7 597.0L791.5 598.5L792.3 600.1L793.0 601.7L793.6 603.3M798.9 627.1L799.1 629.0L799.4 630.9L799.6 632.8L799.8 634.6L800.1 636.5L800.3 638.4M803.2 657.8L803.4 659.7L803.7 661.6L804.0 663.5L804.3 665.3L804.5 667.2L804.8 669.1M807.6 690.0L807.9 691.9L808.1 693.8L808.4 695.7L808.6 697.5L808.9 699.4L809.1 701.3M811.8 722.8L812.1 724.6L812.3 726.5L812.5 728.4L812.8 730.3L813.0 732.2L813.3 734.0M816.0 754.5L816.3 756.4L816.5 758.2L816.8 760.1L817.0 762.0L817.3 763.9L817.6 765.7M820.5 785.7L820.8 787.6L821.1 789.4L821.4 791.3L821.7 793.1L822.0 795.0L822.3 796.9M825.8 817.3L826.2 819.1L826.5 821.0L826.9 822.8L827.2 824.7L827.6 826.5L827.9 828.3M831.6 848.7L831.8 850.6L832.1 852.5L832.4 854.3L832.6 856.2L832.9 858.1L833.1 860.0M841.0 876.0L842.7 876.9L844.5 877.7L846.3 878.4L848.1 879.2L849.9 880.1M859.8 900.6L860.1 902.4L860.5 904.2L860.9 906.1L861.3 907.9L861.6 909.7L862.0 911.6M865.6 931.5L866.0 933.3L866.3 935.2L866.6 937.0L867.0 938.9L867.3 940.7L867.6 942.6M871.2 963.5L871.5 965.4L871.8 967.2L872.1 969.1L872.4 970.9L872.8 972.8L873.1 974.6M876.5 995.1L876.9 996.9L877.2 998.8L877.5 1000.6L877.8 1002.5L878.1 1004.3L878.5 1006.2M882.0 1026.6L882.3 1028.4L882.6 1030.3L883.0 1032.1L883.3 1034.0L883.6 1035.8L884.0 1037.7M887.6 1058.1L888.0 1060.0L888.3 1061.8L888.7 1063.6L889.0 1065.5L889.3 1067.3L889.7 1069.2M893.6 1089.6L893.9 1091.4L894.3 1093.2L894.7 1095.1L895.0 1096.9L895.4 1098.7L895.8 1100.6M899.9 1121.0L900.3 1122.8L900.7 1124.6L901.1 1126.4L901.5 1128.2L901.9 1130.1L902.3 1131.9M907.5 1150.7L908.1 1152.3L908.7 1154.0L909.3 1155.6L910.1 1157.2L911.1 1158.6L912.7 1159.0M923.8 1143.3L925.4 1142.2L927.2 1141.4L929.2 1141.1L931.1 1141.6L932.7 1142.7M942.4 1161.3L943.1 1163.0L943.8 1164.7L944.4 1166.4L945.1 1168.1L945.7 1169.8L946.3 1171.5M952.5 1191.1L953.0 1192.9L953.5 1194.6L954.0 1196.4L954.4 1198.2L954.9 1200.0L955.4 1201.8M960.8 1222.0L961.2 1223.8L961.7 1225.5L962.2 1227.3L962.7 1229.1L963.3 1230.8L963.9 1232.6M971.8 1248.0L973.1 1249.5L974.5 1250.9L976.2 1252.0L978.1 1252.3L979.7 1251.2M987.7 1229.6L988.3 1227.9L989.0 1226.2L989.6 1224.5L990.2 1222.8L990.9 1221.1L991.5 1219.4M998.3 1202.5L999.0 1200.9L999.9 1199.3L1000.7 1197.8L1001.6 1196.3L1002.6 1194.8L1003.7 1193.4M1020.4 1190.8L1022.3 1191.4L1024.1 1192.0L1026.0 1192.5L1027.8 1193.1L1029.7 1193.5M1044.4 1192.7L1045.8 1191.6L1047.0 1190.4L1048.1 1189.0L1049.0 1187.6L1049.9 1186.1L1050.6 1184.5M1056.6 1161.8L1056.9 1159.9L1057.2 1158.1L1057.5 1156.2L1057.8 1154.4L1058.1 1152.5L1058.4 1150.7M1062.1 1131.8L1062.5 1129.9L1062.8 1128.1L1063.2 1126.3L1063.6 1124.5L1064.0 1122.6L1064.4 1120.8M1069.2 1100.0L1069.6 1098.2L1070.1 1096.4L1070.5 1094.6L1070.9 1092.8L1071.4 1091.0L1071.8 1089.2M1077.5 1068.6L1078.2 1066.7L1078.8 1064.9L1079.5 1063.0L1080.2 1061.1L1081.0 1059.3L1081.7 1057.4L1082.5 1055.6L1083.4 1053.8L1084.3 1052.0L1085.2 1050.2L1086.1 1048.5L1087.1 1046.7L1088.1 1045.0M1098.8 1028.4L1099.8 1026.9L1100.8 1025.5L1101.8 1024.0L1102.7 1022.5L1103.7 1021.1M1112.7 1006.4L1113.5 1004.8L1114.3 1003.2L1115.1 1001.6L1115.8 999.9L1116.5 998.3L1117.2 996.6M1122.6 975.4L1123.0 973.5L1123.3 971.7L1123.6 969.8L1123.8 967.9L1124.1 966.1L1124.4 964.2M1127.6 942.8L1127.9 940.9L1128.1 939.0L1128.4 937.2L1128.7 935.3L1129.0 933.4L1129.3 931.6M1132.3 912.1L1132.6 910.3L1133.0 908.4L1133.3 906.5L1133.6 904.7L1133.9 902.8L1134.2 901.0M1137.7 880.0L1138.1 878.2L1138.4 876.3L1138.7 874.5L1139.1 872.7L1139.4 870.8L1139.7 869.0M1143.3 849.5L1143.6 847.7L1143.9 845.8L1144.3 844.0L1144.6 842.1L1145.0 840.3L1145.3 838.5M1149.2 817.0L1149.5 815.2L1149.9 813.4L1150.3 811.5L1150.7 809.7L1151.1 807.9L1151.5 806.1M1156.9 785.4L1157.4 783.6L1157.9 781.9L1158.5 780.1L1159.0 778.4L1159.6 776.6L1160.2 774.9M1167.2 755.5L1167.9 753.9L1168.5 752.2L1169.2 750.6L1170.1 749.1L1171.1 747.6L1172.4 746.4M1188.3 742.6L1189.2 741.0L1189.7 739.2L1190.1 737.4L1190.3 735.6L1190.5 733.7L1190.7 731.9M1195.3 712.1L1195.9 710.4L1196.5 708.7L1197.1 707.0L1197.7 705.2L1198.4 703.5L1199.0 701.8M1205.0 682.2L1205.5 680.4L1205.9 678.6L1206.4 676.9L1206.9 675.1L1207.3 673.3L1207.7 671.5M1212.4 651.1L1212.8 649.3L1213.2 647.5L1213.6 645.7L1213.9 643.8L1214.3 642.0L1214.7 640.2M1219.0 619.8L1219.4 618.0L1219.8 616.2L1220.2 614.4L1220.6 612.5L1221.0 610.7L1221.4 608.9M1226.6 588.2L1227.1 586.4L1227.6 584.6L1228.1 582.9L1228.7 581.1L1229.2 579.4L1229.8 577.6M1240.8 571.5L1241.7 573.1L1242.5 574.7L1243.1 576.4L1243.6 578.1L1244.1 579.9L1244.6 581.6M1257.8 595.6L1259.8 595.6L1261.7 595.2L1263.5 594.5L1265.2 593.6L1266.8 592.4M1278.5 573.2L1279.3 571.6L1280.2 570.1L1281.1 568.7L1282.2 567.3L1283.4 566.1L1284.8 565.1M1297.3 577.6L1298.0 579.3L1298.6 581.1L1299.1 582.8L1299.6 584.6L1300.0 586.4L1300.4 588.2M1302.9 606.3L1303.3 608.2L1303.7 610.0L1304.1 611.8L1304.5 613.6L1305.0 615.4L1305.4 617.2M1310.0 639.0L1310.3 640.9L1310.6 642.7L1310.9 644.6L1311.2 646.5L1311.5 648.3L1311.8 650.2M1314.8 671.6L1315.1 673.5L1315.3 675.4L1315.6 677.3L1315.8 679.1L1316.1 681.0L1316.3 682.9M1319.1 703.9L1319.3 705.7L1319.6 707.6L1319.8 709.5L1320.1 711.4L1320.3 713.2L1320.6 715.1M1323.7 735.6L1324.0 737.4L1324.4 739.3L1324.7 741.1L1325.1 742.9L1325.5 744.8L1325.8 746.6M1330.3 765.9L1330.8 767.7L1331.3 769.5L1331.7 771.3L1332.2 773.1L1332.7 774.9L1333.2 776.6M1339.5 796.7L1340.1 798.4L1340.7 800.1L1341.3 801.8L1341.9 803.6L1342.5 805.3L1343.1 807.0M1350.1 825.3L1350.8 827.0L1351.4 828.7L1352.1 830.4L1352.7 832.1L1353.4 833.8L1354.0 835.5M1361.0 855.3L1361.6 857.1L1362.1 858.8L1362.7 860.6L1363.2 862.3L1363.7 864.1L1364.2 865.9M1369.1 886.7L1369.5 888.5L1369.8 890.3L1370.2 892.2L1370.6 894.0L1370.9 895.9L1371.3 897.7M1375.0 918.6L1375.3 920.5L1375.6 922.3L1375.9 924.2L1376.2 926.0L1376.5 927.9L1376.8 929.8M1380.0 949.7L1380.3 951.6L1380.6 953.4L1380.9 955.3L1381.2 957.1L1381.5 959.0L1381.8 960.9M1385.5 982.3L1385.8 984.1L1386.2 986.0L1386.5 987.8L1386.9 989.6L1387.2 991.5L1387.5 993.3M1391.5 1014.2L1391.9 1016.1L1392.3 1017.9L1392.7 1019.7L1393.0 1021.6L1393.4 1023.4L1393.8 1025.2M1398.1 1045.6L1398.5 1047.4L1398.9 1049.2L1399.3 1051.0L1399.7 1052.8L1400.2 1054.7L1400.6 1056.5M1405.1 1075.8L1405.6 1077.6L1406.0 1079.4L1406.5 1081.2L1406.9 1083.0L1407.4 1084.8L1407.8 1086.6M1414.5 1107.6L1415.1 1109.3L1415.8 1110.9L1416.5 1112.6L1417.3 1114.2L1418.1 1115.8L1418.9 1117.4M1428.7 1133.5L1429.7 1135.0L1430.6 1136.4L1431.6 1137.9L1432.6 1139.4L1433.5 1140.8L1434.4 1142.3M1443.9 1160.3L1444.6 1162.0L1445.3 1163.6L1446.0 1165.3L1446.6 1167.0L1447.2 1168.7L1447.8 1170.4M1453.4 1191.2L1453.8 1193.0L1454.2 1194.8L1454.6 1196.6L1455.0 1198.4L1455.4 1200.2L1455.8 1202.1M1460.3 1222.4L1460.7 1224.2L1461.1 1226.0L1461.6 1227.8L1462.0 1229.6L1462.5 1231.4L1462.9 1233.2M1472.3 1258.7L1473.2 1260.2L1474.1 1261.7L1475.0 1263.1L1476.0 1264.6L1477.0 1266.0L1478.1 1267.4M1494.2 1273.5L1495.5 1272.4L1496.7 1271.2L1497.8 1269.9L1498.9 1268.5L1499.9 1267.2L1500.9 1265.8M1516.1 1257.1L1517.9 1257.8L1519.6 1258.8L1521.2 1260.1L1522.6 1261.4L1524.0 1262.9M1536.8 1271.9L1538.2 1271.0L1539.6 1270.0L1540.8 1268.9L1542.0 1267.7L1543.1 1266.5L1544.3 1265.2M1557.5 1249.7L1558.2 1248.0L1558.8 1246.3L1559.3 1244.5L1559.7 1242.8L1560.2 1241.0L1560.6 1239.2M1567.0 1219.8L1567.6 1218.0L1568.2 1216.3L1568.8 1214.6L1569.3 1212.8L1569.8 1211.1L1570.4 1209.3M1575.8 1188.6L1576.3 1186.8L1576.7 1185.0L1577.1 1183.2L1577.6 1181.4L1578.0 1179.6L1578.4 1177.8M1584.1 1155.6L1584.6 1153.8L1585.1 1152.0L1585.6 1150.3L1586.1 1148.5L1586.6 1146.7L1587.2 1145.0M1592.7 1128.8L1593.4 1127.1L1594.0 1125.5L1594.7 1123.8L1595.3 1122.1L1596.0 1120.4L1596.6 1118.7M1604.6 1099.1L1605.2 1097.4L1605.9 1095.7L1606.6 1094.1L1607.2 1092.4L1607.9 1090.7L1608.6 1089.0M1616.0 1068.7L1616.6 1067.0L1617.1 1065.2L1617.7 1063.5L1618.2 1061.8L1618.7 1060.0L1619.3 1058.2M1624.4 1039.0L1624.8 1037.2L1625.2 1035.4L1625.6 1033.5L1626.0 1031.7L1626.4 1029.9L1626.8 1028.1M1631.0 1007.2L1631.3 1005.4L1631.6 1003.5L1632.0 1001.7L1632.3 999.8L1632.6 998.0L1632.9 996.1M1636.3 975.7L1636.6 973.8L1636.9 972.0L1637.2 970.1L1637.5 968.2L1637.8 966.4L1638.1 964.5M1641.0 945.1L1641.3 943.2L1641.5 941.3L1641.8 939.4L1642.1 937.6L1642.3 935.7L1642.6 933.8M1645.4 912.9L1645.6 911.0L1645.9 909.1L1646.1 907.2L1646.4 905.3L1646.6 903.5L1646.9 901.6M1649.3 881.6L1649.6 879.7L1649.8 877.9L1650.0 876.0L1650.3 874.1L1650.5 872.2L1650.7 870.3M1653.4 848.9L1653.6 847.0L1653.9 845.1L1654.1 843.2L1654.3 841.3L1654.6 839.5L1654.8 837.6M1657.9 817.1L1658.2 815.3L1658.6 813.4L1659.0 811.6L1659.5 809.8L1660.0 808.0L1660.5 806.3M1668.8 787.3L1669.7 785.9L1670.7 784.5L1671.7 783.1L1672.8 781.7L1673.9 780.4L1675.0 779.1M1692.0 770.8L1693.8 771.4L1695.7 772.0L1697.6 772.1L1699.5 771.6L1701.1 770.6M1708.8 753.9L1709.2 752.1L1709.7 750.3L1710.1 748.5L1710.5 746.7L1710.9 744.9L1711.3 743.1M1715.0 721.6L1715.3 719.7L1715.6 717.9L1715.9 716.0L1716.3 714.2L1716.6 712.3L1716.9 710.5M1720.0 691.6L1720.3 689.7L1720.5 687.8L1720.7 686.0L1721.0 684.1L1721.4 682.3L1721.9 680.5M1731.4 669.6L1732.6 670.8L1733.6 672.2L1734.5 673.7L1735.4 675.2L1736.3 676.7L1737.1 678.3M1746.0 696.5L1746.6 698.2L1747.3 699.9L1747.9 701.6L1748.5 703.3L1749.1 705.0L1749.7 706.7M1755.3 726.5L1755.9 728.2L1756.4 730.0L1757.0 731.7L1757.7 733.3L1758.4 735.0L1759.2 736.6M1770.2 732.4L1770.6 730.6L1771.1 728.9L1771.6 727.1L1772.0 725.3L1772.5 723.5L1772.9 721.7M1775.2 704.1L1775.3 702.2L1775.5 700.3L1775.7 698.4L1776.0 696.5L1776.2 694.6L1776.4 692.7M1779.1 672.3L1779.3 670.4L1779.6 668.5L1779.8 666.7L1780.0 664.8L1780.3 662.9L1780.5 661.0M1782.6 641.0L1782.8 639.1L1782.9 637.2L1783.1 635.3L1783.3 633.4L1783.5 631.5L1783.7 629.6M1785.8 609.7L1786.0 607.8L1786.3 605.9L1786.5 604.0L1786.7 602.1L1787.0 600.3L1787.2 598.4M1792.2 572.5L1792.7 570.8L1793.3 569.1L1794.0 567.4L1794.7 565.8L1795.5 564.2L1796.3 562.6M1807.8 572.2L1808.2 574.0L1808.7 575.8L1809.0 577.7L1809.4 579.5L1809.7 581.3L1810.1 583.2M1814.1 602.5L1814.5 604.4L1814.9 606.2L1815.3 608.0L1815.7 609.8L1816.1 611.6L1816.5 613.5M1820.9 632.8L1821.3 634.6L1821.7 636.4L1822.1 638.2L1822.5 640.1L1822.9 641.9L1823.3 643.7M1830.4 662.5L1831.3 664.0L1832.2 665.5L1833.1 666.9L1834.2 668.2L1835.5 669.3L1837.1 669.7M1846.6 648.5L1847.1 646.7L1847.6 644.9L1848.0 643.1L1848.5 641.4L1849.0 639.6L1849.5 637.8M1855.7 617.8L1856.3 615.9L1857.2 614.1L1858.7 613.0L1860.4 613.8L1861.7 615.3L1862.8 616.9L1863.8 618.6L1864.7 620.4L1865.5 622.2L1866.2 624.0L1866.8 625.9L1867.3 627.8L1867.7 629.8M1871.5 655.2L1871.8 657.1L1872.1 658.9L1872.5 660.8L1872.8 662.6L1873.1 664.4L1873.5 666.3M1877.1 687.7L1877.4 689.6L1877.7 691.4L1878.0 693.3L1878.3 695.2L1878.6 697.0L1878.9 698.9M1882.0 720.3L1882.3 722.2L1882.6 724.1L1882.8 725.9L1883.1 727.8L1883.4 729.7L1883.6 731.6M1886.7 753.5L1887.0 755.4L1887.2 757.2L1887.5 759.1L1887.7 761.0L1888.0 762.9L1888.3 764.7M1890.9 783.2L1891.2 785.1L1891.5 786.9L1891.7 788.8L1892.0 790.7L1892.3 792.6L1892.6 794.4M1895.6 814.9L1895.9 816.7L1896.2 818.6L1896.5 820.5L1896.7 822.3L1897.0 824.2L1897.3 826.1M1900.6 847.5L1900.9 849.4L1901.2 851.2L1901.5 853.1L1901.8 855.0L1902.0 856.8L1902.3 858.7M1905.9 879.2L1906.3 881.0L1906.8 882.7L1907.3 884.5L1907.8 886.3L1908.4 888.0L1909.0 889.8M1917.5 907.0L1918.4 908.5L1919.3 910.0L1920.2 911.6L1921.0 913.1L1921.9 914.6L1922.7 916.2M1930.4 935.9L1931.0 937.7L1931.5 939.4L1932.0 941.2L1932.4 943.0L1932.9 944.8L1933.3 946.6M1938.3 968.4L1938.7 970.2L1939.1 972.0L1939.5 973.8L1939.9 975.7L1940.3 977.5L1940.7 979.3M1945.0 1000.1L1945.3 1002.0L1945.6 1003.8L1945.9 1005.7L1946.2 1007.6L1946.5 1009.4L1946.7 1011.3M1949.5 1031.9L1949.9 1033.7L1950.3 1035.5L1950.7 1037.3L1951.2 1039.1L1951.6 1040.9L1952.1 1042.7M1956.8 1064.0L1957.1 1065.9L1957.5 1067.7L1957.8 1069.5L1958.2 1071.4L1958.5 1073.2L1958.8 1075.1M1962.2 1095.5L1962.5 1097.4L1962.8 1099.2L1963.1 1101.1L1963.4 1103.0L1963.6 1104.8L1963.9 1106.7M1967.5 1127.6L1967.8 1129.5L1968.2 1131.3L1968.5 1133.2L1968.9 1135.0L1969.2 1136.8L1969.6 1138.7M1974.3 1161.0L1974.8 1162.8L1975.2 1164.6L1975.6 1166.4L1976.0 1168.2L1976.5 1170.0L1976.9 1171.8M1981.9 1191.8L1982.3 1193.2L1982.6 1194.6L1983.0 1196.0"/>
</g>
<g fill="none" stroke-width="6.6" stroke-linecap="round">
<path stroke="#66ffff" stroke-dasharray="29.8 40.8" d="M394.2 144.9H550.8"/>
<path stroke="#0000ff" stroke-dasharray="21.2 16.7 1.2 16.8" d="M394.2 231.4H550.8"/>
<path stroke="#ff0000" stroke-dasharray="11.4 20.5" d="M394.2 318.0H550.8"/>
<path stroke="#008000" d="M394.2 404.5H550.8"/>
</g>
<g font-family="'Liberation Serif','Times New Roman',serif" fill="#000">
<text transform="translate(271.2 133.2) scale(1.0 1.025)" font-size="70" text-anchor="end">1320</text>
<text transform="translate(271.2 371.5) scale(1.0 1.025)" font-size="70" text-anchor="end">1290</text>
<text transform="translate(271.2 609.7) scale(1.0 1.025)" font-size="70" text-anchor="end">1260</text>
<text transform="translate(271.2 848.0) scale(1.0 1.025)" font-size="70" text-anchor="end">1230</text>
<text transform="translate(271.2 1086.2) scale(1.0 1.025)" font-size="70" text-anchor="end">1200</text>
<text transform="translate(271.2 1324.5) scale(1.0 1.025)" font-size="70" text-anchor="end">1170</text>
<text transform="translate(303.8 1469.8) scale(1.0 1.025)" font-size="70" text-anchor="middle">1.00</text>
<text transform="translate(583.4 1469.8) scale(1.0 1.025)" font-size="70" text-anchor="middle">1.05</text>
<text transform="translate(863.0 1469.8) scale(1.0 1.025)" font-size="70" text-anchor="middle">1.10</text>
<text transform="translate(1142.7 1469.8) scale(1.0 1.025)" font-size="70" text-anchor="middle">1.15</text>
<text transform="translate(1422.3 1469.8) scale(1.0 1.025)" font-size="70" text-anchor="middle">1.20</text>
<text transform="translate(1701.9 1469.8) scale(1.0 1.025)" font-size="70" text-anchor="middle">1.25</text>
<text transform="translate(1981.5 1469.8) scale(1.0 1.025)" font-size="70" text-anchor="middle">1.30</text>
<text x="568.8" y="168.9" font-size="70.2">Grid Number</text>
<text transform="translate(1190.6 169.1) scale(1.0 1.025)" font-size="70.2" text-anchor="end">190560</text>
<text x="568.8" y="255.4" font-size="70.2">Grid Number</text>
<text transform="translate(1190.6 255.6) scale(1.0 1.025)" font-size="70.2" text-anchor="end">358650</text>
<text x="568.8" y="342.0" font-size="70.2">Grid Number</text>
<text transform="translate(1190.6 342.2) scale(1.0 1.025)" font-size="70.2" text-anchor="end">489870</text>
<text x="568.8" y="428.5" font-size="70.2">Grid Number</text>
<text transform="translate(1190.6 428.7) scale(1.0 1.025)" font-size="70.2" text-anchor="end">598500</text>
<text x="1140.5" y="1575.0" font-size="76.6" text-anchor="middle">Time (s)</text>
<text transform="translate(74.3 707.0) rotate(-90)" font-size="76.6" text-anchor="middle">Pressure (kPa)</text>
</g>
</g>
</svg>
</body></html>
